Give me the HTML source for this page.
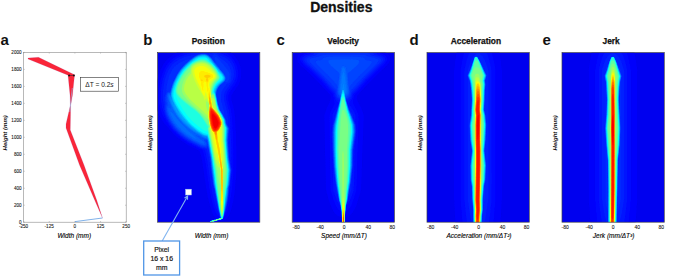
<!DOCTYPE html><html><head><meta charset="utf-8"><style>html,body{margin:0;padding:0;background:#fff;width:675px;height:276px;overflow:hidden}svg{display:block}text{font-family:"Liberation Sans",sans-serif}</style></head><body>
<svg width="675" height="276" viewBox="0 0 675 276">
<defs>
<filter id="jet" x="0" y="0" width="1" height="1" color-interpolation-filters="sRGB"><feComponentTransfer><feFuncR type="table" tableValues="0.000 0.000 0.000 0.000 0.000 0.000 0.000 0.000 0.000 0.000 0.000 0.000 0.000 0.000 0.000 0.000 0.000 0.000 0.000 0.000 0.000 0.000 0.000 0.000 0.000 0.062 0.125 0.188 0.250 0.312 0.375 0.438 0.500 0.562 0.625 0.688 0.750 0.812 0.875 0.938 1.000 1.000 1.000 1.000 1.000 1.000 1.000 1.000 1.000 1.000 1.000 1.000 1.000 1.000 1.000 1.000 1.000 0.938 0.875 0.812 0.750 0.688 0.625 0.562 0.500"/><feFuncG type="table" tableValues="0.000 0.000 0.000 0.000 0.000 0.000 0.000 0.000 0.000 0.062 0.125 0.188 0.250 0.312 0.375 0.438 0.500 0.562 0.625 0.688 0.750 0.812 0.875 0.938 1.000 1.000 1.000 1.000 1.000 1.000 1.000 1.000 1.000 1.000 1.000 1.000 1.000 1.000 1.000 1.000 1.000 0.938 0.875 0.812 0.750 0.688 0.625 0.562 0.500 0.438 0.375 0.312 0.250 0.188 0.125 0.062 0.000 0.000 0.000 0.000 0.000 0.000 0.000 0.000 0.000"/><feFuncB type="table" tableValues="0.500 0.562 0.625 0.688 0.750 0.812 0.875 0.938 1.000 1.000 1.000 1.000 1.000 1.000 1.000 1.000 1.000 1.000 1.000 1.000 1.000 1.000 1.000 1.000 1.000 0.938 0.875 0.812 0.750 0.688 0.625 0.562 0.500 0.438 0.375 0.312 0.250 0.188 0.125 0.062 0.000 0.000 0.000 0.000 0.000 0.000 0.000 0.000 0.000 0.000 0.000 0.000 0.000 0.000 0.000 0.000 0.000 0.000 0.000 0.000 0.000 0.000 0.000 0.000 0.000"/></feComponentTransfer></filter>
<filter id="b0_6" filterUnits="userSpaceOnUse" x="0" y="0" width="675" height="276" color-interpolation-filters="sRGB"><feGaussianBlur stdDeviation="0.6"/></filter>
<filter id="b0_8" filterUnits="userSpaceOnUse" x="0" y="0" width="675" height="276" color-interpolation-filters="sRGB"><feGaussianBlur stdDeviation="0.8"/></filter>
<filter id="b1" filterUnits="userSpaceOnUse" x="0" y="0" width="675" height="276" color-interpolation-filters="sRGB"><feGaussianBlur stdDeviation="1"/></filter>
<filter id="b1_2" filterUnits="userSpaceOnUse" x="0" y="0" width="675" height="276" color-interpolation-filters="sRGB"><feGaussianBlur stdDeviation="1.2"/></filter>
<filter id="b1_5" filterUnits="userSpaceOnUse" x="0" y="0" width="675" height="276" color-interpolation-filters="sRGB"><feGaussianBlur stdDeviation="1.5"/></filter>
<filter id="b2" filterUnits="userSpaceOnUse" x="0" y="0" width="675" height="276" color-interpolation-filters="sRGB"><feGaussianBlur stdDeviation="2"/></filter>
<filter id="b2_5" filterUnits="userSpaceOnUse" x="0" y="0" width="675" height="276" color-interpolation-filters="sRGB"><feGaussianBlur stdDeviation="2.5"/></filter>
<filter id="b3" filterUnits="userSpaceOnUse" x="0" y="0" width="675" height="276" color-interpolation-filters="sRGB"><feGaussianBlur stdDeviation="3"/></filter>
<filter id="b4" filterUnits="userSpaceOnUse" x="0" y="0" width="675" height="276" color-interpolation-filters="sRGB"><feGaussianBlur stdDeviation="4"/></filter>
<filter id="b5" filterUnits="userSpaceOnUse" x="0" y="0" width="675" height="276" color-interpolation-filters="sRGB"><feGaussianBlur stdDeviation="5"/></filter>
<filter id="b6" filterUnits="userSpaceOnUse" x="0" y="0" width="675" height="276" color-interpolation-filters="sRGB"><feGaussianBlur stdDeviation="6"/></filter>
<clipPath id="cp0"><rect x="157.5" y="52.5" width="102.3" height="169.7"/></clipPath>
<clipPath id="cp1"><rect x="292.2" y="52.5" width="102.3" height="169.7"/></clipPath>
<clipPath id="cp2"><rect x="427.0" y="52.5" width="102.3" height="169.7"/></clipPath>
<clipPath id="cp3"><rect x="562.0" y="52.5" width="102.3" height="169.7"/></clipPath>
</defs>
<g clip-path="url(#cp2)"><g filter="url(#jet)">
<rect x="427.0" y="52.5" width="102.3" height="169.7" fill="#1c1c1c"/>
<g filter="url(#b0_5)"><path fill-rule="evenodd" fill="#1f1f1f" d="M500.2 222.8 493.2 223.1 476.2 223.2 461.8 223.1 455.3 222.8 454.0 199.8 454.0 70.2 455.0 61.2 456.5 52.2 463.8 51.9 477.8 51.8 492.2 51.9 499.5 52.2 501.0 61.2 502.0 70.2 502.0 199.8 500.7 222.8 500.2 222.8Z"/><path fill-rule="evenodd" fill="#222222" d="M493.2 222.8 476.8 223.2 462.3 222.8 460.4 199.8 460.4 70.2 462.0 60.8 464.0 52.2 477.8 52.0 492.0 52.2 493.5 58.2 494.9 65.2 495.6 70.2 495.6 199.8 493.7 222.8 493.2 222.8Z"/><path fill-rule="evenodd" fill="#252525" d="M488.8 222.8 482.2 222.9 480.8 223.2 476.8 223.2 473.8 223.2 472.8 222.9 466.8 222.8 465.6 212.8 464.3 199.8 464.3 70.2 465.3 65.2 466.6 60.2 468.0 55.8 469.5 52.2 477.8 52.1 486.5 52.2 488.0 55.8 489.2 59.6 490.5 64.2 491.6 69.8 491.7 199.8 489.7 218.8 489.2 222.8 488.8 222.8Z"/><path fill-rule="evenodd" fill="#282828" d="M484.2 222.8 482.2 222.8 481.2 223.1 477.2 223.2 474.2 223.2 472.8 222.8 471.4 222.8 469.4 212.2 467.7 199.8 467.7 77.2 467.3 76.2 467.3 74.8 467.7 74.2 467.7 70.2 467.9 69.2 469.6 63.8 471.2 59.7 472.8 57.1 474.2 55.2 475.8 54.1 476.8 53.6 477.8 53.4 479.2 53.6 480.8 54.4 482.2 55.8 483.8 57.9 485.0 60.2 486.2 63.3 487.5 67.2 488.3 70.2 488.3 199.8 486.2 214.4 484.7 222.2 484.6 222.8 484.2 222.8Z"/><path fill-rule="evenodd" fill="#2b2b2b" d="M481.8 223.0 480.8 223.2 475.8 223.2 473.8 223.1 473.0 222.8 472.8 206.9 472.3 205.8 472.2 204.7 471.3 199.8 471.2 184.7 470.8 183.8 470.8 181.8 470.4 181.2 470.3 180.2 470.2 171.8 469.9 165.2 470.3 163.8 470.4 160.8 470.8 159.9 470.8 156.8 471.2 155.8 471.3 147.2 470.9 146.8 470.8 144.1 470.4 143.8 470.2 141.1 469.9 140.2 469.2 125.2 469.9 119.8 470.3 118.8 470.4 116.2 470.8 115.7 470.8 107.8 470.9 106.8 471.3 106.2 471.3 94.8 470.9 93.8 470.8 88.9 470.4 88.2 470.2 85.3 470.0 84.8 469.8 82.3 469.5 81.8 469.3 80.2 468.9 79.8 467.6 76.2 467.5 75.2 469.5 70.8 469.8 70.4 469.9 69.8 470.2 69.3 470.4 68.2 470.8 67.9 470.9 66.8 471.2 66.4 471.4 65.2 471.8 64.9 472.3 62.8 472.8 62.3 472.9 61.2 473.2 60.9 473.3 60.2 473.8 59.5 473.8 58.8 474.2 58.3 474.3 57.8 475.2 56.8 476.8 56.8 477.2 57.0 478.2 58.2 478.2 58.8 479.2 59.8 479.2 60.3 479.7 60.8 479.8 61.3 480.6 62.2 481.2 63.8 482.7 65.8 483.8 67.8 484.6 69.8 484.8 71.3 485.2 71.8 485.2 72.3 485.7 72.8 485.8 73.3 486.6 74.8 486.7 75.8 486.1 78.2 485.8 78.9 485.7 79.8 485.2 80.8 485.2 81.3 485.6 81.8 485.7 82.2 485.7 86.2 485.6 87.8 485.2 88.8 485.1 98.8 484.7 100.8 484.8 111.8 485.1 112.2 485.2 113.8 485.6 114.2 485.7 114.8 485.8 117.1 486.1 118.2 486.2 121.8 486.5 122.8 486.6 124.8 486.5 128.8 486.2 131.8 486.0 138.2 485.8 139.7 485.6 143.8 485.2 144.5 485.2 148.2 484.7 149.2 484.8 152.8 485.1 153.2 485.2 156.8 485.6 157.8 485.8 160.7 486.1 161.8 486.4 165.2 486.1 173.2 485.8 176.4 485.7 180.8 485.2 181.6 485.2 183.2 484.7 183.8 484.7 199.8 483.2 206.9 483.2 210.8 482.8 211.6 482.6 214.8 482.2 215.8 482.2 222.8 481.8 223.0Z"/><path fill-rule="evenodd" fill="#2e2e2e" d="M481.8 222.9 480.8 223.1 476.2 223.2 474.2 223.1 473.3 222.8 473.0 216.2 473.0 210.2 472.8 205.4 472.5 204.2 472.0 197.2 471.8 187.4 471.2 183.7 470.5 179.8 470.3 164.8 471.5 154.2 471.8 153.0 471.9 150.8 470.1 139.8 469.4 125.2 470.9 115.8 471.0 110.2 471.7 99.8 471.2 92.9 470.2 84.3 469.4 80.2 467.6 75.8 467.6 75.2 470.2 69.6 472.5 62.8 472.8 62.4 473.4 60.2 473.8 59.8 474.0 58.8 474.2 58.5 474.4 57.8 475.2 56.8 476.8 56.8 478.1 58.2 478.2 58.8 479.6 60.8 480.2 62.3 480.6 62.8 480.8 63.4 481.6 64.8 481.8 65.4 482.1 65.8 483.8 69.7 486.6 75.2 486.6 75.8 485.1 80.8 485.6 84.2 485.1 88.8 484.5 104.2 484.1 109.8 484.2 110.7 484.5 111.2 485.5 115.2 486.4 124.8 485.5 141.2 484.8 147.8 484.6 150.8 484.8 153.8 485.0 154.8 486.1 165.2 485.5 179.8 484.5 184.8 484.2 185.8 484.0 188.8 483.7 191.2 483.6 194.8 483.2 196.3 483.0 209.8 482.2 215.8 482.1 222.8 481.8 222.9Z"/><path fill-rule="evenodd" fill="#313131" d="M481.8 222.8 480.8 223.1 476.2 223.2 474.2 223.1 473.3 222.8 473.1 215.8 473.2 210.2 472.5 202.2 471.8 186.2 470.6 179.8 470.4 165.2 472.0 150.8 470.3 139.8 469.5 125.2 471.0 115.2 471.8 99.8 471.2 91.3 470.3 83.8 469.7 80.8 467.8 75.8 467.8 75.2 470.2 69.9 474.4 57.8 475.2 56.8 476.8 56.8 478.0 58.2 478.2 58.9 478.6 59.2 480.5 62.8 483.8 70.0 486.4 75.2 486.4 75.8 484.9 80.8 485.5 84.2 484.9 90.2 484.5 102.2 484.0 109.8 485.3 115.2 486.3 124.8 485.5 139.8 484.4 150.8 486.0 165.2 485.4 179.8 484.1 185.8 483.2 195.2 483.0 200.2 482.8 209.8 482.1 215.8 481.9 222.8 481.8 222.8Z"/><path fill-rule="evenodd" fill="#353535" d="M481.8 222.8 480.8 223.1 476.8 223.2 474.2 223.1 473.4 222.8 473.3 209.8 472.4 200.2 471.9 186.2 470.8 179.8 470.5 165.2 472.1 150.8 470.4 139.8 469.7 125.2 471.2 114.8 471.9 99.8 471.2 89.9 470.4 83.8 469.8 80.8 467.9 75.8 467.9 75.2 470.2 70.2 474.5 57.8 475.2 56.8 476.8 56.8 477.6 57.8 478.5 59.2 480.4 62.8 486.2 75.2 486.3 75.8 484.8 80.8 485.3 84.2 484.7 90.2 484.5 99.8 483.9 109.8 485.2 115.2 486.1 124.8 485.4 139.8 484.2 150.8 485.9 165.2 485.2 179.8 484.0 185.8 482.8 200.2 482.7 209.8 482.0 215.8 481.8 222.8Z"/><path fill-rule="evenodd" fill="#383838" d="M481.2 223.0 476.2 223.2 474.2 223.0 473.5 222.8 473.3 209.8 472.5 199.8 472.0 186.2 470.9 179.8 470.6 165.2 472.2 151.2 470.5 139.8 469.8 125.2 471.3 115.2 472.0 99.8 471.4 90.2 470.5 83.8 470.0 80.8 468.1 75.8 468.1 75.2 470.5 69.8 474.5 57.8 475.2 56.9 476.8 56.9 477.6 57.8 478.5 59.2 480.0 62.2 486.1 75.2 486.2 75.8 484.7 80.8 485.2 84.2 484.6 90.2 484.4 99.8 483.8 109.8 485.1 115.2 486.0 124.8 485.3 139.8 484.2 150.8 485.8 165.2 485.1 179.8 483.8 186.9 482.7 199.8 482.6 210.2 481.9 215.8 481.7 222.8 481.2 223.0Z"/><path fill-rule="evenodd" fill="#3b3b3b" d="M481.2 223.0 476.2 223.2 474.2 223.0 473.5 222.8 473.4 209.8 472.6 199.8 472.1 186.2 471.0 179.8 470.7 165.2 472.3 150.8 470.6 139.8 469.9 125.2 471.4 115.2 472.1 99.8 471.5 90.2 470.7 84.2 470.1 80.8 468.2 75.8 468.2 75.2 470.6 69.8 474.6 57.8 475.2 56.9 475.8 56.9 476.8 56.9 477.1 57.2 478.9 60.2 486.0 75.2 486.0 75.8 484.6 80.8 485.1 84.2 484.5 90.2 484.3 99.8 483.7 109.8 485.0 115.2 485.9 124.8 485.2 139.8 484.1 150.8 485.7 165.2 485.0 179.8 483.7 186.2 482.6 199.8 482.5 210.2 481.8 216.2 481.7 222.8 481.2 223.0Z"/><path fill-rule="evenodd" fill="#3e3e3e" d="M481.2 222.9 479.2 223.1 476.2 223.2 474.2 223.0 473.6 222.8 473.5 209.8 472.6 199.8 472.1 186.2 471.1 179.8 470.8 165.2 472.4 150.8 470.7 139.8 470.0 125.2 471.5 115.2 472.2 99.8 471.6 90.2 470.8 84.0 470.2 80.8 468.3 75.8 468.3 75.2 470.7 69.8 474.7 57.8 475.2 56.9 475.8 56.9 476.8 56.9 477.1 57.2 478.9 60.2 485.9 75.2 485.9 75.8 484.5 80.8 485.0 84.2 484.4 90.2 484.2 100.2 483.6 109.8 484.9 115.2 485.8 124.8 485.1 139.8 484.0 150.8 485.6 165.2 484.9 179.8 483.6 186.2 482.6 199.8 482.5 210.2 481.8 216.2 481.6 222.8 481.2 222.9Z"/><path fill-rule="evenodd" fill="#414141" d="M481.2 222.9 479.2 223.1 476.2 223.1 474.2 223.0 473.7 222.8 473.5 209.8 472.7 199.8 472.2 186.2 471.2 179.8 470.9 165.2 472.5 150.8 470.8 139.8 470.1 125.2 471.6 115.2 472.3 99.8 471.7 90.2 470.8 83.8 470.3 80.8 468.4 75.8 468.5 75.2 470.8 69.8 474.5 58.2 475.0 57.2 475.2 57.0 475.8 56.9 476.8 56.9 477.1 57.2 479.4 61.2 485.7 75.2 485.8 75.8 484.4 80.8 484.9 84.2 484.4 90.2 484.1 100.2 483.5 109.8 484.8 115.2 485.7 124.8 485.0 139.8 483.9 150.8 485.5 165.2 484.8 179.8 483.6 186.2 482.5 199.8 482.4 209.8 481.7 216.2 481.5 222.8 481.2 222.9Z"/><path fill-rule="evenodd" fill="#444444" d="M481.2 222.9 479.2 223.1 476.8 223.1 474.8 223.0 473.7 222.8 473.6 209.8 472.8 199.8 472.3 186.2 471.3 179.8 471.0 165.2 472.6 150.8 470.9 139.8 470.2 125.2 471.7 114.8 471.8 109.8 472.4 99.8 471.7 90.2 470.9 83.8 470.4 80.8 468.6 75.8 468.6 75.2 470.9 69.8 474.6 58.2 475.0 57.2 475.2 57.0 475.8 57.0 476.8 57.0 477.1 57.2 479.3 61.2 485.6 75.2 485.6 75.8 484.2 80.8 484.8 84.2 484.3 90.2 484.0 100.2 483.4 109.8 484.7 115.2 485.6 124.8 484.9 139.8 483.8 150.8 485.4 165.2 484.7 179.8 483.5 186.2 482.4 199.8 482.4 209.8 481.6 216.2 481.5 222.8 481.2 222.9Z"/><path fill-rule="evenodd" fill="#474747" d="M481.2 222.8 479.2 223.1 476.8 223.1 474.8 223.0 473.8 222.8 473.7 209.8 472.8 199.8 472.4 186.2 471.4 179.8 471.1 165.2 472.6 150.8 471.0 139.8 470.3 125.2 471.8 115.2 471.9 109.8 472.4 99.8 471.8 90.2 471.1 84.2 470.5 80.8 468.7 75.8 468.7 75.2 471.0 69.8 474.6 58.2 475.0 57.2 475.2 57.0 475.8 57.0 476.8 57.0 477.0 57.2 479.3 61.2 485.5 75.2 485.5 75.8 484.2 80.8 484.7 84.2 484.2 90.2 483.9 100.2 483.4 109.8 484.6 115.2 485.5 124.8 484.8 139.8 483.7 150.8 485.3 165.2 484.6 179.8 483.4 186.2 482.4 199.8 482.3 209.8 481.6 215.8 481.4 222.8 481.2 222.8Z"/><path fill-rule="evenodd" fill="#4a4a4a" d="M481.2 222.8 479.2 223.1 476.8 223.1 473.9 222.8 473.7 216.2 473.7 209.8 472.9 199.8 472.5 186.2 471.5 179.8 471.2 165.2 472.7 150.8 471.1 139.8 470.4 125.2 471.9 115.2 472.0 109.8 472.5 99.8 471.9 90.2 471.2 84.2 470.6 80.8 468.8 75.8 468.8 75.2 471.1 69.8 474.6 58.2 475.0 57.2 475.2 57.0 475.8 57.0 476.8 57.0 477.0 57.2 479.5 61.8 485.4 75.2 485.4 75.8 484.1 80.8 484.6 84.2 484.1 90.2 483.8 100.2 483.3 109.8 484.5 115.2 485.4 124.8 484.7 139.8 483.7 150.8 485.2 165.2 484.5 179.8 483.3 186.2 482.3 199.8 482.2 209.8 481.6 215.8 481.2 222.8Z"/><path fill-rule="evenodd" fill="#4c4c4c" d="M481.2 222.8 479.2 223.1 477.2 223.1 475.8 223.1 473.9 222.8 473.7 216.2 473.8 209.8 473.0 199.8 472.5 186.2 471.6 179.8 471.3 165.2 472.8 151.2 471.2 139.8 470.5 125.2 471.9 115.2 472.0 109.8 472.6 99.8 472.0 90.2 471.3 84.2 470.7 80.8 468.9 75.8 468.9 75.2 471.2 69.8 474.7 58.2 475.1 57.2 475.2 57.1 475.8 57.0 476.8 57.0 477.0 57.2 479.4 61.8 485.3 75.2 485.3 75.8 484.0 80.8 484.5 84.2 484.0 90.2 483.8 99.8 483.2 109.8 484.4 115.2 485.3 124.8 484.6 139.8 483.6 150.8 485.1 165.2 484.4 179.8 483.2 186.2 482.2 199.8 482.2 209.8 481.5 215.8 481.2 222.8Z"/><path fill-rule="evenodd" fill="#505050" d="M481.2 222.8 479.2 223.1 477.2 223.1 473.9 222.8 473.8 216.2 473.8 209.8 473.0 199.8 472.6 186.2 471.6 179.8 471.4 165.2 472.8 151.2 471.3 139.8 470.6 125.2 472.0 115.2 472.1 109.8 472.6 99.8 472.0 90.2 471.3 84.2 470.7 80.8 469.0 75.8 469.0 75.2 471.2 69.8 474.7 58.2 475.1 57.2 475.8 57.0 476.8 57.1 477.0 57.2 479.4 61.8 485.2 75.2 485.3 75.8 483.9 80.8 484.5 84.2 484.0 90.2 483.8 99.8 483.2 109.8 484.4 115.2 485.2 124.8 484.5 139.8 483.6 150.8 485.0 165.2 484.4 179.8 483.2 186.2 482.2 199.8 482.2 209.8 481.5 215.8 481.2 222.8Z"/><path fill-rule="evenodd" fill="#585858" d="M480.8 222.9 476.8 223.1 474.1 222.8 473.9 216.2 474.0 209.8 473.2 199.8 472.8 186.2 471.8 179.8 471.6 165.2 473.0 150.8 471.5 139.8 470.8 125.2 472.2 115.2 472.3 109.8 472.8 99.8 472.3 90.2 471.6 84.2 470.9 80.8 469.3 75.8 469.3 75.2 471.4 69.8 474.8 58.3 475.1 57.2 475.8 57.1 476.9 57.2 479.3 61.8 484.9 75.2 484.9 75.8 483.7 80.8 484.3 84.2 483.8 90.2 483.5 100.2 483.0 109.8 484.2 115.2 485.0 124.8 484.3 139.8 483.4 150.8 484.8 165.2 484.2 179.8 483.0 186.2 482.0 199.8 482.0 210.2 481.3 215.8 481.1 222.8 480.8 222.9Z"/><path fill-rule="evenodd" fill="#606060" d="M480.8 222.8 479.2 223.0 476.8 223.1 474.2 222.8 474.1 216.2 474.1 209.8 473.4 199.8 473.0 186.2 472.1 179.8 471.9 165.2 473.2 150.8 471.8 139.8 471.1 125.2 472.5 115.2 472.5 109.8 473.1 99.8 472.5 90.2 471.8 84.2 471.2 80.8 469.6 75.8 469.6 75.2 471.7 69.8 475.2 57.2 475.8 57.1 476.8 57.2 479.2 62.1 484.6 75.2 484.6 75.8 483.4 80.8 484.0 84.2 483.5 90.2 483.3 100.2 482.7 109.8 483.9 115.2 484.7 124.8 484.0 139.8 483.1 150.8 484.5 165.2 483.9 179.8 482.8 186.2 481.8 199.8 481.8 209.8 481.1 216.2 480.9 222.8 480.8 222.8Z"/><path fill-rule="evenodd" fill="#676767" d="M480.8 222.8 479.2 223.0 477.2 223.1 474.5 222.8 474.2 216.2 474.3 209.8 473.6 199.8 473.2 186.2 472.4 179.8 472.2 164.8 473.5 151.2 472.1 139.8 471.4 125.2 472.7 115.2 472.7 109.8 473.3 99.8 472.8 90.2 472.1 84.2 471.5 80.8 470.0 75.8 470.0 75.2 471.9 69.8 475.2 57.4 475.8 57.2 476.8 57.2 478.8 61.4 484.2 75.2 484.3 75.8 483.1 80.8 483.7 84.2 483.3 89.8 483.1 99.8 482.5 109.8 483.6 115.2 484.4 124.8 483.7 139.8 482.9 150.8 484.2 165.2 483.6 179.8 482.6 186.2 481.6 199.8 481.6 209.8 480.9 216.2 480.8 222.8Z"/><path fill-rule="evenodd" fill="#6f6f6f" d="M480.2 222.8 476.8 223.0 474.7 222.8 474.4 216.2 474.5 209.8 473.8 199.8 473.5 186.2 472.7 179.8 472.6 165.2 473.8 151.2 472.4 139.8 471.8 125.2 473.1 115.2 473.0 109.8 473.6 99.8 473.1 90.2 472.5 84.2 471.8 80.8 470.4 75.8 470.4 75.2 472.4 69.2 474.8 60.1 475.2 58.6 475.8 58.0 476.8 58.2 478.8 61.9 483.8 75.1 483.8 75.8 482.8 80.8 483.3 84.2 482.9 89.8 482.8 100.2 482.2 109.8 483.3 115.2 484.0 124.8 483.3 140.2 482.6 150.8 483.8 165.2 483.3 179.8 482.3 186.2 481.4 199.8 481.4 210.2 480.8 215.8 480.5 222.8 480.2 222.8Z"/><path fill-rule="evenodd" fill="#777777" d="M480.2 222.8 477.2 223.0 474.9 222.8 474.7 216.2 474.8 209.8 474.1 199.8 473.9 186.2 473.2 179.8 473.0 165.2 474.1 150.8 472.9 139.8 472.2 125.2 473.5 115.2 473.4 109.8 474.0 99.8 473.5 90.2 472.9 84.2 472.3 80.8 471.0 75.8 471.0 75.2 472.6 70.2 474.8 61.9 475.2 61.1 475.8 61.0 477.2 61.0 477.8 61.3 478.2 61.9 481.2 69.8 483.2 75.2 483.3 75.8 482.3 80.8 482.9 84.2 482.5 90.2 482.4 100.2 481.8 109.8 482.9 115.2 483.6 124.8 482.3 150.8 483.4 165.2 482.9 179.8 481.9 186.2 481.1 199.8 481.2 209.8 480.6 216.2 480.2 222.8Z"/><path fill-rule="evenodd" fill="#7e7e7e" d="M479.8 222.8 476.8 223.0 475.1 222.8 474.8 216.2 475.0 209.8 474.3 199.8 474.3 186.2 473.9 179.8 473.8 165.2 474.6 150.8 473.6 139.8 472.9 125.2 474.2 115.2 473.9 109.8 474.5 99.8 474.1 90.2 473.7 84.2 473.1 80.8 471.9 75.8 472.2 74.1 474.2 68.4 474.8 67.7 475.8 67.3 478.2 67.4 479.2 68.0 480.2 69.6 482.2 75.0 482.4 75.8 481.6 80.8 482.2 84.2 481.9 90.2 481.9 100.2 481.3 109.8 482.2 115.2 482.9 124.8 481.8 150.8 482.6 165.2 482.1 179.8 481.5 186.2 480.8 199.8 481.0 210.2 480.4 216.2 480.1 222.8 479.8 222.8Z"/><path fill-rule="evenodd" fill="#868686" d="M479.8 222.8 476.8 223.0 475.2 222.8 475.0 216.2 475.2 209.8 474.6 199.8 474.9 151.2 474.5 139.8 474.3 125.2 474.8 115.2 474.3 109.8 474.9 99.8 474.8 84.2 474.4 81.2 474.4 79.2 474.5 76.8 475.1 74.8 475.8 73.9 476.8 73.7 478.2 73.8 478.8 74.2 479.5 75.8 479.9 77.2 480.2 80.8 481.1 84.2 481.5 99.8 480.9 109.8 481.6 115.2 481.6 125.2 481.3 139.8 481.6 168.2 481.4 179.8 480.6 199.8 480.8 209.8 480.2 215.8 480.0 222.8 479.8 222.8Z"/><path fill-rule="evenodd" fill="#8e8e8e" d="M479.8 222.8 477.2 222.9 475.4 222.8 475.2 215.8 475.3 209.8 474.8 200.2 475.2 151.2 474.8 140.2 474.8 125.2 475.1 115.2 474.6 109.8 475.2 99.8 475.2 84.2 475.0 81.2 475.5 78.2 475.8 77.6 476.2 77.3 476.8 77.2 478.2 77.4 478.8 77.8 480.6 83.8 481.2 99.8 480.6 109.8 481.2 115.2 481.0 139.8 481.2 154.8 481.1 176.2 480.4 199.8 480.6 209.8 480.1 215.8 479.8 222.8Z"/><path fill-rule="evenodd" fill="#959595" d="M479.2 222.9 476.8 222.9 475.5 222.8 475.3 215.8 475.5 209.8 474.9 199.8 475.4 151.2 475.0 139.8 475.0 125.2 475.3 115.2 474.8 109.8 475.4 100.2 475.5 81.8 475.8 80.8 476.2 80.0 477.2 79.8 478.2 80.0 478.8 80.5 479.8 82.4 480.3 84.2 481.0 99.8 480.5 109.8 481.1 115.2 480.7 139.8 481.0 150.8 481.1 165.2 480.8 180.2 480.3 199.8 480.5 209.8 479.9 216.2 479.7 222.8 479.2 222.9Z"/><path fill-rule="evenodd" fill="#9d9d9d" d="M479.2 222.8 476.8 222.9 475.6 222.8 475.4 215.8 475.6 209.8 475.1 199.8 475.5 151.2 475.2 139.8 475.2 125.2 475.5 115.2 474.9 109.8 475.6 100.2 475.6 89.8 475.9 83.2 476.2 81.8 477.2 81.5 478.2 81.6 478.8 81.8 479.2 82.4 480.0 84.2 480.4 89.8 480.8 99.8 480.3 109.8 480.9 115.2 480.6 125.2 480.6 139.8 480.9 151.2 480.9 165.2 480.6 185.8 480.1 199.8 480.4 209.8 479.8 216.2 479.6 222.8 479.2 222.8Z"/><path fill-rule="evenodd" fill="#a4a4a4" d="M479.2 222.8 475.7 222.8 475.5 215.8 475.7 209.8 475.2 199.8 475.7 164.8 475.7 151.2 475.4 139.8 475.3 125.2 475.7 115.2 475.1 109.8 475.7 100.2 475.8 90.2 476.0 86.2 476.3 83.8 476.8 82.9 477.2 82.8 478.8 82.9 479.2 83.4 479.6 84.2 480.2 90.2 480.7 99.8 480.1 109.8 480.7 115.2 480.4 139.8 480.7 151.2 480.7 165.2 480.4 185.8 480.0 199.8 480.2 209.8 479.7 216.2 479.5 222.8 479.2 222.8Z"/><path fill-rule="evenodd" fill="#acacac" d="M479.2 222.8 475.8 222.8 475.6 215.8 475.9 209.8 475.3 199.8 475.8 164.8 475.8 151.2 475.5 139.8 475.5 125.2 475.8 115.2 475.2 109.8 475.9 100.2 476.0 90.8 476.2 86.9 476.8 84.6 477.2 84.1 477.8 84.1 478.8 84.2 479.2 85.0 479.7 87.2 480.5 99.8 480.0 109.8 480.6 115.2 480.3 125.2 480.3 139.8 480.6 151.2 480.6 165.2 480.3 185.8 479.9 199.8 480.1 209.8 479.6 215.8 479.4 222.8 479.2 222.8Z"/><path fill-rule="evenodd" fill="#b4b4b4" d="M479.2 222.8 476.0 222.8 475.7 216.2 476.0 209.8 475.5 199.8 476.0 164.8 476.0 151.2 475.6 139.8 475.6 125.2 475.9 115.2 475.4 109.8 476.0 100.2 476.3 89.8 476.8 87.0 477.2 86.3 477.8 86.3 478.8 86.4 479.2 87.3 479.8 90.2 480.4 99.8 479.9 109.8 480.4 115.2 480.2 125.2 480.1 139.8 480.4 151.2 480.4 165.2 479.7 199.8 480.0 209.8 479.4 216.2 479.2 222.8Z"/><path fill-rule="evenodd" fill="#bbbbbb" d="M478.8 222.8 476.1 222.8 475.9 216.2 476.1 209.8 475.6 199.8 476.1 164.8 476.1 151.2 475.8 139.8 475.7 125.2 476.1 115.2 475.5 109.8 476.7 90.2 476.8 89.5 477.2 88.6 477.8 88.5 478.8 88.7 479.2 89.6 479.8 93.1 480.2 99.8 479.7 109.8 480.3 115.2 480.1 125.2 480.0 139.8 480.3 151.2 480.3 165.2 479.6 199.8 479.9 209.8 479.4 215.8 479.1 222.8 478.8 222.8Z"/><path fill-rule="evenodd" fill="#c3c3c3" d="M478.8 222.8 476.2 222.8 476.0 216.2 476.2 209.8 475.7 199.8 476.2 164.8 475.9 125.2 476.2 115.2 475.7 109.8 476.8 93.0 477.2 91.2 477.8 91.0 478.8 91.2 479.2 92.4 479.8 96.0 480.0 100.2 479.6 109.8 480.2 115.2 479.9 125.2 479.9 139.8 480.2 151.2 480.2 165.2 479.9 185.8 479.5 199.8 479.7 209.8 479.2 216.2 478.9 222.8 478.8 222.8Z"/><path fill-rule="evenodd" fill="#cbcbcb" d="M478.8 222.8 476.5 222.8 476.2 216.2 476.4 209.8 475.9 199.8 476.4 164.8 476.4 151.2 476.1 140.2 476.1 125.2 476.4 115.2 475.8 109.8 476.8 96.8 477.2 94.4 477.8 94.0 478.2 94.0 478.8 94.1 479.2 95.3 479.8 98.8 479.8 100.2 479.4 109.8 480.0 115.2 479.7 139.8 480.0 151.2 480.0 165.2 479.8 183.8 479.3 199.8 479.5 209.8 479.0 216.2 478.8 222.8Z"/><path fill-rule="evenodd" fill="#d2d2d2" d="M478.2 222.8 476.7 222.8 476.4 216.2 476.6 209.8 476.1 199.8 476.6 165.2 476.6 151.2 476.3 139.8 476.2 125.2 476.6 115.2 476.0 109.8 476.8 100.8 477.1 98.2 477.2 97.5 477.8 97.0 478.2 97.0 478.8 97.1 479.2 98.1 479.5 100.2 479.2 109.8 479.8 115.2 479.5 139.8 479.8 150.8 479.8 164.8 479.1 199.8 479.3 210.2 478.6 220.2 478.4 222.8 478.2 222.8Z"/><path fill-rule="evenodd" fill="#dadada" d="M477.8 219.9 477.2 219.8 476.8 216.4 477.0 209.8 476.4 199.8 476.9 164.8 476.9 151.2 476.6 140.2 476.5 125.2 476.9 115.2 476.3 109.8 477.2 101.6 477.8 100.2 478.2 100.1 478.8 100.3 478.8 101.2 478.9 110.2 479.5 115.2 479.2 139.8 479.5 151.2 479.5 164.8 479.2 185.8 478.8 199.8 479.0 209.8 478.2 218.6 477.8 219.9Z"/><path fill-rule="evenodd" fill="#e2e2e2" d="M478.2 139.8 477.8 140.2 477.2 137.5 477.0 125.2 477.2 119.3 477.8 115.4 478.2 114.8 478.8 116.1 478.9 124.2 478.8 132.6 478.2 139.8Z"/></g>
</g></g>
<rect x="427.0" y="52.5" width="102.3" height="169.7" fill="none" stroke="#3a3a4a" stroke-width="0.7"/>
<g clip-path="url(#cp3)"><g filter="url(#jet)">
<rect x="562.0" y="52.5" width="102.3" height="169.7" fill="#1c1c1c"/>
<g filter="url(#b0_5)"><path fill-rule="evenodd" fill="#1f1f1f" d="M635.2 222.8 628.2 223.1 611.2 223.2 596.8 223.1 590.3 222.8 588.6 199.8 588.6 70.2 590.0 60.2 591.5 52.2 598.8 51.9 612.8 51.8 627.2 51.9 634.5 52.2 636.0 60.2 637.4 70.2 637.4 199.8 635.7 222.8 635.2 222.8Z"/><path fill-rule="evenodd" fill="#222222" d="M628.8 222.8 612.2 223.2 597.2 222.8 596.0 211.8 594.9 199.8 594.9 70.2 596.6 60.8 597.7 56.2 599.0 52.2 612.8 52.0 627.0 52.2 628.9 58.8 630.6 66.8 631.1 70.2 631.1 199.8 630.0 211.8 628.8 222.8Z"/><path fill-rule="evenodd" fill="#252525" d="M623.8 222.8 611.8 223.2 608.8 223.2 607.8 222.9 601.8 222.8 600.4 213.8 599.0 203.2 598.7 199.8 598.7 70.2 599.9 64.8 601.3 59.8 602.8 55.8 604.5 52.2 612.8 52.1 621.5 52.2 623.0 55.2 624.6 59.2 626.0 64.2 627.3 69.8 627.3 199.8 625.2 216.8 624.2 222.8 623.8 222.8Z"/><path fill-rule="evenodd" fill="#282828" d="M619.2 222.8 617.2 222.8 615.8 223.2 611.8 223.2 608.8 223.1 607.8 222.8 606.4 222.8 605.2 218.6 604.0 212.8 601.9 199.8 601.9 70.2 602.8 66.9 604.0 63.2 605.2 60.3 606.8 57.6 608.2 55.7 609.8 54.3 611.2 53.5 612.8 53.2 614.8 53.5 616.2 54.3 617.8 55.7 619.2 57.6 620.8 60.3 622.0 63.2 623.2 66.9 624.1 70.2 624.1 199.8 623.0 207.2 621.7 214.2 620.0 221.2 619.6 222.8 619.2 222.8Z"/><path fill-rule="evenodd" fill="#2b2b2b" d="M616.8 222.8 615.8 223.1 611.2 223.2 608.8 223.1 607.8 222.8 607.8 210.9 606.2 205.5 605.1 199.8 605.1 133.2 604.8 132.2 604.8 128.2 604.8 124.8 605.1 123.8 605.1 80.2 604.8 79.8 604.8 78.2 604.3 77.2 604.3 75.8 604.3 75.2 604.8 74.8 604.8 73.8 605.1 73.2 605.1 70.2 605.6 68.8 607.2 65.2 608.8 62.9 608.8 62.2 609.2 61.8 609.4 60.8 609.8 60.5 609.9 59.8 610.2 59.4 610.4 58.8 610.8 58.4 610.8 57.8 611.8 56.8 613.8 56.8 614.2 57.2 614.2 57.8 615.1 58.8 615.2 59.3 615.7 59.8 615.8 60.3 616.2 60.8 616.2 61.3 616.7 61.8 616.8 62.3 618.2 64.2 619.2 66.1 620.8 69.8 620.9 73.2 621.2 73.8 621.2 74.8 621.7 75.2 621.7 75.8 621.7 77.2 621.2 78.2 621.2 79.8 620.9 80.2 620.9 199.8 619.2 207.5 617.2 213.6 616.9 220.8 617.0 222.8 616.8 222.8Z"/><path fill-rule="evenodd" fill="#2e2e2e" d="M616.2 223.0 610.8 223.2 608.8 223.1 608.0 222.8 608.2 217.8 608.2 208.3 608.0 197.8 607.8 163.3 607.3 159.2 607.2 155.7 606.9 154.8 606.8 150.7 606.5 149.8 606.2 145.8 606.0 144.8 605.8 138.7 605.5 137.2 604.9 128.2 606.2 113.2 606.4 104.2 606.8 99.8 606.5 96.8 606.2 89.0 605.9 86.8 605.8 82.2 604.5 76.8 604.5 75.8 605.9 71.8 606.2 71.3 606.5 70.2 606.8 69.9 606.9 68.8 607.2 68.4 607.4 67.2 607.8 66.7 608.5 63.8 608.8 63.5 608.9 62.2 609.2 61.9 609.4 61.2 609.8 60.8 609.8 60.2 610.2 59.8 610.3 59.2 611.3 57.2 611.8 56.8 612.2 56.8 613.8 56.8 614.2 57.2 614.2 57.8 614.7 58.2 614.8 58.8 615.2 59.2 615.2 59.7 616.6 62.2 616.8 63.0 617.0 63.2 617.2 64.4 617.6 64.8 617.8 65.8 618.1 66.2 618.2 67.1 618.6 67.8 619.2 69.9 619.5 70.2 619.8 71.3 620.1 71.8 621.5 75.8 621.6 76.2 620.2 82.2 620.0 85.2 619.7 87.2 619.6 92.8 619.2 95.8 619.2 103.8 619.6 106.8 619.8 113.6 620.0 115.2 620.2 122.4 620.5 124.8 620.6 130.2 620.2 135.4 620.0 144.8 619.8 145.7 619.5 149.2 619.2 150.1 619.0 153.8 618.8 154.4 618.6 157.8 618.2 159.2 618.1 175.2 617.7 179.8 617.7 196.8 617.6 198.2 617.2 199.1 617.1 211.2 616.8 218.0 616.7 222.8 616.2 223.0Z"/><path fill-rule="evenodd" fill="#313131" d="M616.2 223.0 610.8 223.2 608.8 223.0 608.1 222.8 608.3 217.8 608.3 186.2 608.0 178.8 607.8 160.2 606.1 143.2 605.1 128.2 606.3 115.2 606.9 99.8 605.9 82.2 604.6 76.2 604.6 75.8 606.8 70.2 609.5 61.2 610.8 58.8 610.9 58.2 611.3 57.8 611.3 57.2 611.8 56.8 612.2 56.8 613.8 56.9 614.1 57.2 614.2 57.8 614.6 58.2 614.8 58.8 616.1 61.2 621.4 75.8 621.4 76.2 620.1 82.2 619.6 87.2 619.1 95.8 619.1 103.8 620.5 128.2 619.7 145.2 618.1 159.2 617.6 191.2 617.2 196.5 616.7 222.8 616.2 223.0Z"/><path fill-rule="evenodd" fill="#353535" d="M616.2 223.0 611.2 223.2 609.2 223.1 608.2 222.8 608.4 217.8 608.3 186.2 607.8 160.2 606.4 145.2 605.3 128.2 606.4 115.2 607.0 99.8 606.0 82.2 604.8 76.2 604.8 75.8 606.8 70.2 609.6 61.2 611.3 57.8 611.4 57.2 611.8 56.9 612.2 56.8 613.8 56.9 614.1 57.2 614.2 57.8 614.6 58.2 614.7 58.8 616.0 61.2 621.2 75.8 621.2 76.2 620.0 81.8 619.8 84.3 618.8 99.8 620.3 128.2 619.6 145.2 618.0 159.8 617.5 188.2 616.6 222.8 616.2 223.0Z"/><path fill-rule="evenodd" fill="#383838" d="M616.2 222.9 614.2 223.1 611.2 223.2 609.2 223.1 608.3 222.8 608.4 217.8 608.4 186.2 607.9 160.2 606.5 145.2 605.4 128.2 606.5 114.8 607.1 99.8 606.1 82.2 604.9 76.2 604.9 75.8 606.9 70.2 609.5 61.8 611.4 57.2 611.8 56.9 612.2 56.9 613.2 56.9 614.0 57.2 615.9 61.2 621.1 75.8 621.1 76.2 619.8 83.3 619.2 88.9 618.7 99.8 620.2 128.2 619.5 144.8 617.9 160.2 616.5 222.8 616.2 222.9Z"/><path fill-rule="evenodd" fill="#3b3b3b" d="M616.2 222.9 614.2 223.1 611.2 223.2 609.2 223.0 608.4 222.8 608.5 217.8 608.4 186.2 608.0 160.2 606.6 144.8 605.5 128.2 606.6 114.8 607.2 99.8 606.2 82.2 605.0 76.2 605.0 75.8 607.2 69.6 609.5 61.8 611.5 57.2 611.8 57.0 612.2 56.9 613.2 56.9 614.0 57.2 615.8 61.2 621.0 75.8 621.0 76.2 619.7 82.2 619.2 88.2 618.6 99.8 620.1 128.2 619.4 144.8 617.8 160.2 616.5 222.8 616.2 222.9Z"/><path fill-rule="evenodd" fill="#3e3e3e" d="M616.2 222.8 615.2 223.0 611.8 223.2 609.2 223.0 608.4 222.8 608.6 217.8 608.5 186.2 608.1 160.2 606.6 144.8 605.6 128.2 606.7 114.8 607.2 99.8 606.3 82.2 605.1 76.2 605.1 75.8 607.2 69.9 609.6 61.8 611.5 57.2 611.8 57.0 612.2 56.9 613.2 56.9 613.9 57.2 616.0 61.8 620.9 75.8 620.9 76.2 619.7 82.2 619.1 88.2 618.6 99.8 620.0 128.2 619.3 144.8 617.7 160.2 617.3 185.8 616.4 222.8 616.2 222.8Z"/><path fill-rule="evenodd" fill="#414141" d="M616.2 222.8 615.2 223.0 611.8 223.2 609.2 223.0 608.5 222.8 608.6 217.8 608.6 186.2 608.1 160.2 606.7 144.8 605.7 128.2 606.8 114.8 607.3 99.8 606.4 82.2 605.2 76.2 605.3 75.8 607.2 70.1 609.6 61.8 611.5 57.2 612.2 56.9 613.2 56.9 613.9 57.2 615.9 61.8 620.7 75.8 620.8 76.2 619.6 82.2 619.0 88.2 618.5 99.8 619.9 128.2 619.3 144.8 617.7 160.2 617.2 186.2 616.2 222.8Z"/><path fill-rule="evenodd" fill="#444444" d="M616.2 222.8 615.2 223.0 612.2 223.1 609.2 223.0 608.5 222.8 608.7 217.8 608.6 186.2 608.2 160.2 606.8 144.8 605.8 128.2 606.9 114.8 607.4 99.8 606.5 82.2 605.3 76.2 605.4 75.8 607.3 70.2 609.7 61.8 611.6 57.2 612.2 57.0 613.2 57.0 613.8 57.2 615.9 61.8 620.6 75.8 620.7 76.2 619.5 82.2 618.9 88.2 618.4 99.8 619.8 128.2 619.2 144.8 617.6 160.2 616.2 222.8Z"/><path fill-rule="evenodd" fill="#474747" d="M615.8 222.9 611.2 223.1 608.6 222.8 608.7 217.8 608.7 186.2 608.3 160.2 606.9 144.8 605.9 128.2 606.9 114.8 607.5 99.8 606.6 82.2 605.4 76.2 605.5 75.8 607.4 70.2 609.7 61.8 611.6 57.2 612.2 57.0 613.2 57.0 613.8 57.2 615.8 61.8 620.5 75.8 620.6 76.2 619.4 82.2 618.9 88.2 618.3 99.8 619.7 128.2 619.1 144.8 617.5 160.2 616.2 222.8 615.8 222.9Z"/><path fill-rule="evenodd" fill="#4a4a4a" d="M615.8 222.9 611.2 223.1 608.7 222.8 608.8 186.2 608.3 160.2 607.0 145.2 606.0 128.2 607.0 114.8 607.6 99.8 606.7 82.2 605.6 75.8 607.5 70.2 609.8 61.9 611.6 57.2 612.2 57.0 613.2 57.0 613.7 57.2 615.8 61.8 620.4 75.8 620.5 76.2 619.3 82.2 618.8 88.2 618.2 99.8 619.6 128.2 619.0 144.8 617.5 160.2 616.1 222.8 615.8 222.9Z"/><path fill-rule="evenodd" fill="#4c4c4c" d="M615.8 222.9 613.8 223.1 611.2 223.1 608.7 222.8 608.8 186.2 608.4 160.2 607.1 145.2 606.1 128.2 607.1 114.8 607.6 99.8 606.8 82.2 605.7 75.8 607.5 70.2 609.8 62.1 611.7 57.2 612.2 57.0 613.2 57.0 613.7 57.2 615.7 61.8 620.4 76.2 619.2 82.2 618.7 88.2 618.2 99.8 619.5 128.2 618.9 144.8 617.4 160.2 616.1 222.8 615.8 222.9Z"/><path fill-rule="evenodd" fill="#505050" d="M615.8 222.9 611.8 223.1 608.7 222.8 608.8 186.2 608.4 160.2 607.2 145.2 606.1 128.2 607.1 114.8 607.7 99.8 606.8 82.2 605.7 75.8 607.6 70.2 609.8 62.1 611.7 57.2 612.2 57.0 613.2 57.0 613.7 57.2 615.8 61.8 620.3 76.2 619.2 82.2 618.7 88.2 618.1 99.8 619.5 128.2 618.9 144.8 617.4 160.2 616.1 222.8 615.8 222.9Z"/><path fill-rule="evenodd" fill="#585858" d="M615.8 222.8 613.8 223.1 611.8 223.1 608.9 222.8 609.0 186.2 608.6 160.2 607.3 144.8 606.4 128.2 607.4 114.8 607.9 99.8 607.1 82.2 606.0 75.8 607.9 69.8 609.9 62.2 611.8 57.3 612.2 57.1 613.2 57.1 613.8 57.5 615.8 62.2 620.0 76.2 618.9 82.2 618.4 88.2 617.9 99.8 619.3 128.2 618.7 144.8 617.2 160.2 616.8 186.2 615.9 222.8 615.8 222.8Z"/><path fill-rule="evenodd" fill="#606060" d="M615.2 222.9 611.8 223.1 609.1 222.8 609.2 186.2 608.8 160.2 607.6 145.2 606.6 128.2 607.6 114.8 608.1 99.8 607.3 82.2 606.3 75.8 608.0 70.2 610.2 61.8 611.8 57.6 612.2 57.1 613.4 57.2 615.2 61.3 619.8 76.2 618.6 83.2 618.2 88.2 617.7 99.8 619.0 128.2 618.4 145.2 617.0 160.2 616.6 185.8 615.7 222.8 615.2 222.9Z"/><path fill-rule="evenodd" fill="#676767" d="M615.2 222.8 611.8 223.0 609.3 222.8 609.4 186.2 609.0 160.2 607.8 144.8 606.9 128.2 607.9 114.8 608.3 99.8 607.6 82.2 606.6 75.8 608.4 69.8 610.2 62.0 611.8 57.9 612.2 57.2 613.3 57.2 615.2 61.7 619.4 76.2 618.4 82.2 617.9 88.2 617.5 99.8 618.7 128.2 618.2 144.8 616.8 160.2 615.8 215.2 615.5 222.8 615.2 222.8Z"/><path fill-rule="evenodd" fill="#6f6f6f" d="M615.2 222.8 612.2 223.0 609.5 222.8 609.6 186.2 609.2 160.2 607.2 128.2 608.1 115.2 608.6 99.8 607.9 82.2 607.0 75.8 608.6 70.2 610.8 61.3 611.8 58.7 612.2 58.0 612.8 58.0 613.2 58.1 613.8 58.8 615.2 62.5 619.0 76.2 618.0 83.2 617.6 88.2 617.2 99.8 618.4 128.2 617.8 145.2 616.6 160.2 616.2 186.2 615.2 222.8Z"/><path fill-rule="evenodd" fill="#777777" d="M614.8 222.8 611.8 223.0 609.8 222.8 609.8 186.2 609.5 160.2 607.6 128.2 608.6 115.2 609.0 100.2 608.3 82.2 607.5 75.8 609.0 70.2 610.8 62.8 611.2 61.5 611.8 61.1 612.2 61.0 613.8 61.1 614.2 61.4 614.8 62.4 618.5 76.2 617.5 84.2 616.9 99.8 618.0 128.2 617.4 145.2 616.3 160.2 615.4 209.8 615.0 222.8 614.8 222.8Z"/><path fill-rule="evenodd" fill="#7e7e7e" d="M614.2 222.9 611.8 223.0 610.0 222.8 610.2 185.8 610.0 160.2 608.2 128.2 609.2 115.2 609.6 100.2 609.0 82.2 608.3 76.2 611.2 65.0 611.8 64.2 612.8 64.0 613.8 64.1 614.2 64.5 614.6 65.2 616.2 70.5 617.7 76.2 617.0 82.2 616.3 97.2 616.5 106.2 617.4 128.2 616.8 145.2 615.8 160.2 615.6 186.2 615.0 217.8 614.7 222.8 614.2 222.9Z"/><path fill-rule="evenodd" fill="#868686" d="M614.2 222.8 611.8 223.0 610.2 222.8 610.2 221.2 610.4 185.8 610.4 145.2 610.2 135.3 609.9 128.2 610.2 122.4 610.4 115.2 610.4 85.2 610.5 76.2 611.0 71.2 611.8 67.6 612.2 67.1 612.8 67.0 613.8 67.1 614.2 67.8 614.9 70.2 615.5 76.2 615.6 81.8 615.5 99.8 615.7 128.2 615.3 185.8 614.8 217.8 614.6 222.8 614.2 222.8Z"/><path fill-rule="evenodd" fill="#8e8e8e" d="M614.2 222.8 611.8 222.9 610.3 222.8 610.3 221.2 610.7 185.8 610.8 144.8 610.4 128.2 610.8 115.1 610.6 88.2 611.2 73.8 611.8 70.6 612.2 70.0 612.8 69.9 613.8 70.0 614.2 70.6 614.5 71.8 615.0 75.8 615.2 81.8 615.1 186.2 614.7 217.8 614.5 222.8 614.2 222.8Z"/><path fill-rule="evenodd" fill="#959595" d="M614.2 222.8 611.8 222.9 610.5 222.8 610.4 221.2 610.8 185.8 610.9 144.8 610.6 128.2 610.9 115.2 610.8 87.8 611.4 74.8 611.8 72.6 612.2 71.8 612.8 71.6 613.8 71.8 614.3 72.8 614.7 76.2 615.0 82.2 615.1 114.8 615.0 185.8 614.5 217.8 614.2 222.8Z"/><path fill-rule="evenodd" fill="#9d9d9d" d="M613.8 222.9 610.6 222.8 610.5 221.2 610.9 185.8 611.0 145.2 610.8 128.2 611.0 114.8 611.0 88.2 611.6 75.8 611.8 74.6 612.1 73.8 612.2 73.4 612.8 73.3 613.8 73.4 614.2 74.6 614.6 77.8 614.8 82.8 615.0 114.8 614.9 128.2 615.0 145.2 614.9 185.8 614.4 217.8 614.2 222.8 613.8 222.9Z"/><path fill-rule="evenodd" fill="#a4a4a4" d="M613.8 222.8 610.7 222.8 610.6 221.2 611.0 185.8 611.1 145.2 610.9 128.2 611.1 114.8 611.1 88.2 611.8 76.6 612.2 75.1 612.8 74.9 613.8 75.1 614.1 76.2 614.6 81.2 614.9 114.8 614.7 127.8 614.9 145.2 614.8 186.2 614.3 217.8 614.1 222.8 613.8 222.8Z"/><path fill-rule="evenodd" fill="#acacac" d="M613.8 222.8 610.8 222.8 610.7 221.2 611.1 185.8 611.2 145.2 611.0 128.2 611.2 114.8 611.2 88.2 611.8 78.9 612.2 76.9 612.8 76.6 613.2 76.6 613.8 76.9 614.2 78.9 614.5 81.8 614.8 114.8 614.6 127.8 614.8 145.2 614.6 186.2 614.2 217.8 614.0 222.8 613.8 222.8Z"/><path fill-rule="evenodd" fill="#b4b4b4" d="M613.8 222.8 610.9 222.8 610.9 220.8 611.2 185.8 611.3 145.2 611.1 128.2 611.3 114.8 611.3 88.2 611.8 81.1 612.2 78.7 612.8 78.4 613.2 78.4 613.8 78.7 614.3 82.2 614.7 114.8 614.5 186.2 614.1 217.8 613.9 222.8 613.8 222.8Z"/><path fill-rule="evenodd" fill="#bbbbbb" d="M613.8 222.8 611.1 222.8 611.0 220.8 611.4 185.8 611.5 145.2 611.2 128.2 611.5 115.2 611.5 88.2 611.9 82.2 612.2 80.6 612.8 80.2 613.2 80.2 613.8 80.6 614.2 84.6 614.5 114.8 614.4 186.2 614.0 217.8 613.8 222.8Z"/><path fill-rule="evenodd" fill="#c3c3c3" d="M613.2 222.8 611.2 222.8 611.1 220.8 611.5 185.8 611.6 145.2 611.3 128.2 611.6 115.2 611.6 89.8 611.8 86.0 612.2 82.6 612.8 82.0 613.2 82.1 613.8 82.6 614.1 87.2 614.4 114.8 614.3 186.2 613.9 217.8 613.6 222.8 613.2 222.8Z"/><path fill-rule="evenodd" fill="#cbcbcb" d="M613.2 222.8 611.4 222.8 611.2 220.8 611.6 185.8 611.7 145.2 611.4 128.2 611.7 115.2 611.6 98.8 611.8 88.2 612.2 85.1 612.8 84.6 613.2 84.6 613.8 85.5 613.9 87.8 614.3 114.8 614.2 185.8 613.8 217.8 613.4 222.8 613.2 222.8Z"/><path fill-rule="evenodd" fill="#d2d2d2" d="M612.8 222.8 612.0 222.8 611.8 222.5 611.5 217.8 611.8 145.2 611.6 128.2 611.8 114.8 611.8 100.2 612.2 88.2 612.2 87.6 612.8 87.1 613.2 87.2 613.6 88.2 613.8 89.3 614.2 114.8 614.0 128.2 614.2 144.8 614.0 185.8 613.8 209.6 613.2 221.5 612.8 222.8Z"/><path fill-rule="evenodd" fill="#dadada" d="M612.8 219.5 612.2 219.5 611.7 217.8 612.1 145.2 611.7 128.2 612.1 115.2 612.1 99.8 612.2 95.6 612.8 94.0 613.2 94.1 613.8 98.7 613.9 144.8 613.8 195.0 613.3 217.8 612.8 219.5Z"/><path fill-rule="evenodd" fill="#e2e2e2" d="M613.2 145.0 612.8 145.0 612.2 139.1 612.0 128.2 612.2 119.5 612.8 115.0 613.2 115.0 613.6 123.2 613.6 135.2 613.2 145.0Z"/></g>
</g></g>
<rect x="562.0" y="52.5" width="102.3" height="169.7" fill="none" stroke="#3a3a4a" stroke-width="0.7"/>
<g clip-path="url(#cp1)"><g filter="url(#jet)">
<rect x="292.2" y="52.5" width="102.3" height="169.7" fill="#1c1c1c"/>
<g filter="url(#b0_5)"><path fill-rule="evenodd" fill="#1f1f1f" d="M345.4 222.3 344.9 222.7 342.9 222.7 341.9 222.7 341.3 222.2 341.2 218.8 340.9 217.2 338.4 216.4 336.5 215.2 334.9 213.8 333.2 211.2 331.7 208.2 329.7 203.2 327.6 196.8 325.8 189.8 324.1 115.2 326.3 108.8 329.8 101.2 330.3 99.2 330.4 96.0 329.7 94.8 318.4 82.5 307.5 71.8 300.7 65.8 298.2 62.8 297.4 61.2 297.0 59.8 296.9 58.2 297.2 56.8 297.9 55.2 298.9 54.0 300.4 52.9 302.7 51.8 302.9 49.8 315.9 49.6 343.9 49.5 370.9 49.6 384.2 49.8 384.4 51.8 386.9 53.1 388.4 54.2 389.6 55.8 390.2 57.2 390.4 58.8 390.1 60.8 389.2 62.8 388.1 64.2 386.2 66.2 378.8 73.2 366.9 85.2 358.3 94.8 357.7 95.8 357.0 97.2 356.9 98.2 357.4 100.3 361.3 107.8 363.0 112.2 363.9 115.2 361.2 189.8 357.8 201.8 356.2 206.2 354.9 209.2 352.9 212.6 350.9 214.9 348.4 216.5 345.4 217.5 345.4 222.3Z"/><path fill-rule="evenodd" fill="#222222" d="M344.9 222.5 344.4 222.7 342.4 222.7 341.5 222.2 341.4 212.2 340.9 211.7 339.4 210.7 338.0 209.2 336.6 207.2 335.5 205.2 334.2 202.2 332.8 198.2 330.3 189.8 329.2 115.2 330.9 110.8 334.2 104.2 334.4 103.2 334.2 101.8 333.2 98.2 332.7 94.8 332.5 94.2 320.4 81.1 309.9 70.8 302.7 64.2 301.4 62.8 300.5 61.2 300.1 60.2 299.9 58.8 300.1 57.8 300.5 56.8 301.4 55.8 302.7 54.8 307.3 52.8 307.5 49.8 343.9 49.6 379.7 49.8 379.9 52.8 383.4 54.2 385.2 55.2 386.7 56.8 387.3 58.2 387.4 59.2 387.1 60.8 386.3 62.2 385.2 63.8 366.9 81.8 355.0 94.8 354.3 95.8 353.3 101.2 353.3 103.2 353.9 104.8 357.2 110.8 358.8 115.2 356.7 189.8 354.2 198.2 352.8 202.2 351.5 205.2 350.4 207.2 348.9 209.3 347.4 210.8 345.9 211.7 345.8 212.8 345.4 213.3 345.3 222.2 344.9 222.5Z"/><path fill-rule="evenodd" fill="#252525" d="M344.9 222.4 344.4 222.7 342.9 222.7 342.4 222.7 341.7 222.2 341.5 211.8 341.1 210.8 340.9 208.9 340.6 208.2 340.4 206.3 338.0 202.8 336.4 199.7 334.6 194.8 333.1 189.8 332.8 166.8 332.6 164.8 332.5 157.8 332.1 153.8 331.5 132.2 332.1 125.2 332.4 124.2 332.3 115.2 333.0 113.2 334.4 110.5 337.9 105.3 338.0 104.8 338.4 104.2 338.4 103.8 338.0 102.8 335.9 100.2 334.8 98.2 334.3 96.8 333.7 93.2 321.3 79.8 310.9 69.6 304.5 63.8 302.6 61.2 302.2 60.2 302.0 59.2 302.2 58.2 302.7 57.2 303.7 56.2 304.9 55.5 310.3 53.8 311.0 49.8 376.1 49.8 376.9 53.8 380.9 55.0 382.9 55.9 384.5 57.2 385.2 58.8 385.3 59.8 384.8 61.2 383.0 63.8 365.9 80.6 353.4 94.2 353.0 94.8 352.7 96.8 352.1 98.8 349.4 103.2 349.4 103.8 349.6 104.8 353.1 109.8 355.6 114.8 355.5 122.8 356.2 125.2 356.7 131.8 355.0 143.2 353.9 189.8 352.3 195.2 350.3 200.2 348.4 203.6 346.4 205.9 346.3 207.8 345.9 208.3 345.8 211.2 345.4 212.2 345.1 218.2 345.1 222.2 344.9 222.4Z"/><path fill-rule="evenodd" fill="#282828" d="M344.4 222.7 342.4 222.7 341.8 222.2 341.5 211.8 341.1 210.2 340.9 208.4 340.7 207.8 340.4 205.8 340.2 205.2 339.9 203.9 339.6 203.2 339.4 202.4 339.1 201.8 338.9 200.9 338.6 200.2 338.4 198.9 338.1 198.2 337.9 196.5 337.5 195.8 336.4 192.9 335.4 189.8 335.4 183.8 335.1 182.8 334.9 180.3 334.7 179.2 333.2 165.8 332.5 150.2 332.0 132.2 332.6 125.2 334.5 118.8 334.6 117.8 334.9 116.8 335.0 114.8 335.9 113.1 336.0 112.2 336.4 111.6 336.7 110.2 336.9 109.9 339.4 101.0 337.4 99.7 335.9 97.8 335.3 96.2 334.7 92.8 334.4 92.1 321.9 78.5 311.9 68.8 306.0 63.2 304.8 61.8 304.2 60.8 304.0 59.2 304.3 58.2 304.9 57.5 307.1 56.2 312.9 54.4 315.4 50.8 315.8 49.8 371.3 49.8 371.7 50.8 373.2 52.8 374.0 54.2 374.9 54.7 379.4 56.0 381.3 56.8 382.6 57.8 383.3 59.2 383.3 60.2 382.9 61.2 381.5 63.2 364.9 79.8 352.4 93.3 351.6 96.8 350.9 98.2 349.4 99.9 346.9 101.5 346.9 102.4 347.2 102.8 347.4 104.0 348.2 105.8 348.4 106.9 348.8 107.2 348.9 108.4 349.3 108.8 349.4 109.6 351.2 111.8 353.0 114.8 353.1 117.8 355.8 125.2 356.2 131.8 353.6 150.2 353.2 166.2 352.4 171.9 352.3 175.2 351.9 176.2 351.6 189.8 350.2 193.8 348.4 197.6 348.3 199.2 347.9 199.9 347.9 200.8 347.4 201.5 347.2 202.8 346.9 203.0 346.7 204.2 346.4 204.8 346.2 206.8 345.9 207.6 345.8 210.2 345.4 211.6 344.9 217.8 344.9 222.2 344.4 222.7Z"/><path fill-rule="evenodd" fill="#2b2b2b" d="M344.4 222.6 342.4 222.7 341.9 222.2 341.9 218.2 341.4 210.8 340.4 205.3 338.7 199.8 337.4 192.4 337.2 191.8 336.9 189.9 336.7 189.2 336.4 187.3 335.3 181.8 333.6 166.2 332.8 150.2 332.3 132.2 333.0 125.2 337.3 109.2 339.4 101.9 339.9 99.8 337.9 98.6 336.5 96.8 335.7 94.2 335.4 91.2 323.1 77.8 308.1 63.2 306.8 61.8 306.2 60.2 306.3 59.2 306.5 58.8 307.9 57.6 310.4 56.7 315.9 55.3 317.0 54.2 318.4 53.4 319.9 52.9 321.9 52.5 326.4 52.2 333.9 52.1 358.4 52.1 364.9 52.4 367.4 52.9 368.9 53.5 369.9 54.1 371.4 55.4 375.9 56.4 378.9 57.4 380.4 58.4 380.9 59.0 381.2 59.8 380.9 61.2 379.5 63.2 363.5 79.2 351.5 92.2 350.9 95.8 350.2 97.2 348.9 98.8 347.9 99.4 346.4 100.1 346.4 100.2 346.4 101.4 346.7 101.8 349.4 110.2 351.7 115.2 355.3 124.8 355.9 131.8 353.3 149.8 352.8 166.2 351.1 181.8 350.4 184.8 350.2 186.8 349.9 187.4 349.8 189.2 349.4 190.0 349.3 191.8 348.9 192.5 348.8 194.8 348.4 195.7 347.8 200.2 346.4 204.2 345.9 207.0 344.9 216.9 344.9 222.2 344.4 222.6Z"/><path fill-rule="evenodd" fill="#2e2e2e" d="M344.4 222.6 342.4 222.6 342.0 222.2 341.9 217.5 341.4 210.5 340.4 205.0 338.8 199.8 335.6 182.2 333.8 165.8 333.0 150.2 332.6 132.2 333.3 125.2 337.2 110.2 339.9 100.5 339.9 98.6 338.9 98.1 338.0 97.2 337.1 95.8 336.4 93.7 336.3 90.2 335.9 89.3 324.5 76.8 310.7 63.2 309.4 61.8 309.1 60.8 309.2 59.8 309.6 59.2 311.4 58.2 314.9 57.2 318.9 56.5 320.9 55.5 323.9 54.8 327.9 54.5 335.4 54.5 356.9 54.5 362.9 54.7 365.9 55.3 368.4 56.6 372.1 57.2 375.9 58.2 377.8 59.2 378.4 60.2 378.5 60.8 378.1 61.8 377.0 63.2 362.1 78.2 350.9 90.4 350.4 94.1 349.4 96.7 347.9 98.2 345.9 99.1 345.9 100.1 348.9 109.4 352.7 118.2 355.0 124.8 355.5 131.8 353.0 149.8 352.6 165.8 350.8 181.8 348.9 191.6 347.8 199.8 346.4 204.0 345.9 206.5 344.9 216.3 344.9 222.2 344.4 222.6Z"/><path fill-rule="evenodd" fill="#313131" d="M344.4 222.6 342.4 222.6 342.0 222.2 341.9 216.5 341.4 210.3 340.5 204.8 339.0 199.8 335.8 182.2 334.0 166.2 333.3 150.2 332.9 132.2 333.5 125.2 337.3 110.2 340.1 100.2 340.0 97.8 338.4 96.2 337.3 93.8 337.0 91.8 337.2 87.8 336.9 85.1 327.1 74.2 317.0 64.2 316.1 63.2 315.7 62.2 315.7 61.8 315.9 61.3 316.8 60.8 318.8 60.2 321.9 59.9 322.5 58.8 323.5 57.8 324.9 57.2 327.4 56.8 332.9 56.6 349.9 56.6 356.9 56.7 360.4 56.9 362.5 57.2 363.9 57.8 364.9 58.8 365.2 59.8 365.4 60.0 368.4 60.3 370.9 61.0 371.9 61.7 372.0 62.2 371.6 63.2 370.4 64.8 359.1 76.2 349.9 86.3 349.8 87.8 350.0 91.8 349.6 94.2 348.9 95.8 348.2 96.8 347.4 97.4 345.9 98.0 345.9 100.2 348.9 109.8 352.3 117.8 354.7 124.8 355.3 131.8 352.8 149.8 352.4 166.2 350.7 181.8 348.8 191.8 347.6 199.8 345.9 206.0 344.9 215.8 344.9 222.2 344.4 222.6Z"/><path fill-rule="evenodd" fill="#353535" d="M344.4 222.6 342.9 222.7 342.4 222.6 342.0 222.2 341.9 215.7 341.4 210.0 340.5 204.8 339.1 199.8 336.0 182.2 334.2 165.8 333.5 150.2 333.2 132.2 333.7 125.8 337.6 109.8 340.2 100.2 340.5 97.2 340.4 96.7 339.2 95.8 338.3 94.2 338.0 93.2 337.7 91.8 337.8 88.2 339.2 74.2 339.2 73.2 339.0 72.8 334.7 69.2 330.4 65.2 328.7 63.2 328.0 61.8 328.3 60.8 329.0 60.2 330.6 59.8 332.9 59.5 345.4 59.3 354.9 59.5 356.9 59.8 358.5 60.2 359.1 60.8 359.4 61.7 358.8 63.2 356.7 65.8 351.8 70.2 347.9 73.4 347.8 74.8 349.1 88.2 349.2 92.2 348.9 93.8 347.9 95.5 346.9 96.5 345.6 97.2 345.8 97.8 345.8 100.2 348.8 109.8 352.2 118.2 354.5 124.8 355.0 131.8 352.5 149.8 352.2 165.8 350.5 181.8 348.6 192.2 347.5 199.8 345.9 205.5 344.9 215.4 344.8 222.2 344.4 222.6Z"/><path fill-rule="evenodd" fill="#383838" d="M344.4 222.5 342.9 222.7 342.4 222.6 342.0 222.2 341.9 215.0 341.4 209.8 340.6 204.8 339.2 199.8 336.1 181.8 334.4 165.8 333.7 149.8 333.4 132.2 334.1 124.8 340.2 100.2 340.4 98.6 340.6 95.8 339.4 94.4 338.9 93.5 338.6 92.2 338.5 90.8 338.9 84.6 340.5 70.8 340.8 68.8 341.4 67.2 342.4 66.0 343.4 65.7 344.4 65.9 345.3 66.8 346.0 68.2 346.3 69.2 346.9 74.1 348.4 88.8 348.4 91.8 347.9 93.7 346.9 95.1 345.4 96.1 345.4 97.2 345.7 99.8 348.7 109.8 352.1 118.2 354.3 124.8 354.8 131.8 352.3 149.8 352.0 165.8 350.3 181.8 348.5 192.2 347.4 199.8 345.9 205.2 344.9 215.0 344.8 222.2 344.4 222.5Z"/><path fill-rule="evenodd" fill="#3b3b3b" d="M344.4 222.5 342.9 222.7 342.4 222.6 342.1 222.2 341.9 214.4 341.4 209.5 340.6 204.8 339.2 199.8 336.2 181.8 334.6 165.8 333.9 149.8 333.7 132.2 334.3 124.8 340.3 100.2 340.7 96.8 341.0 95.8 340.9 94.4 339.9 93.3 339.5 91.8 339.5 87.8 341.4 70.9 341.9 69.2 342.3 68.2 342.9 67.6 343.4 67.5 343.9 67.6 344.6 68.2 345.4 70.5 346.4 77.7 347.5 88.2 347.6 90.8 347.3 92.8 346.4 94.1 344.9 95.2 345.3 95.8 345.6 99.8 348.5 109.8 351.7 117.8 354.0 124.8 354.5 131.8 352.1 149.8 351.8 166.2 350.2 181.8 348.4 191.8 347.3 199.8 345.9 205.2 344.9 214.6 344.8 222.2 344.4 222.5Z"/><path fill-rule="evenodd" fill="#3e3e3e" d="M344.4 222.5 342.9 222.7 342.1 222.2 341.9 213.7 341.4 209.3 340.7 204.8 339.3 199.8 336.4 181.8 334.8 165.8 334.1 149.8 333.9 132.2 334.5 124.8 340.4 100.2 341.2 94.2 341.5 93.8 341.4 93.1 340.9 92.2 340.6 91.2 340.6 87.8 341.9 76.6 342.7 73.2 342.9 72.5 343.4 72.0 343.9 72.3 344.3 73.2 344.9 76.0 346.4 87.9 346.5 90.2 346.3 91.8 345.8 92.8 344.9 93.5 344.9 95.2 345.2 96.2 345.6 99.8 348.4 109.9 351.7 118.2 353.8 124.8 354.3 131.8 351.9 149.8 351.6 165.8 350.0 181.8 348.3 191.8 347.3 199.8 345.8 205.2 344.9 214.3 344.7 222.2 344.4 222.5Z"/><path fill-rule="evenodd" fill="#414141" d="M344.4 222.5 342.9 222.6 342.1 222.2 341.8 211.8 340.8 205.2 339.4 199.8 336.5 181.8 335.0 165.8 334.3 149.8 334.1 132.2 334.8 124.8 338.1 109.8 340.4 100.2 340.8 97.2 341.5 93.8 341.6 92.2 342.0 91.8 342.0 90.2 342.3 89.8 342.4 87.0 342.9 84.8 343.4 84.1 343.9 84.6 344.6 87.2 344.7 89.2 344.4 90.7 344.4 92.2 344.8 93.2 344.8 95.2 345.6 100.2 348.4 110.2 351.4 117.8 353.6 124.8 354.1 131.8 351.7 149.8 351.4 166.2 349.9 181.8 348.2 191.8 347.2 199.8 345.8 205.2 344.9 213.9 344.7 222.2 344.4 222.5Z"/><path fill-rule="evenodd" fill="#444444" d="M344.4 222.4 343.9 222.6 342.9 222.6 342.1 222.2 341.9 212.2 340.9 205.2 339.5 199.8 336.7 181.8 335.1 165.8 334.5 149.8 334.3 132.2 334.9 125.2 338.2 109.8 340.5 100.2 340.8 97.2 341.7 92.8 342.0 91.8 342.1 90.2 342.4 89.9 342.9 89.8 343.9 89.9 344.3 90.2 344.4 92.8 344.7 93.8 345.5 100.2 348.2 109.8 351.2 117.8 353.4 124.8 353.9 131.8 351.6 149.8 351.2 166.2 349.7 181.8 348.0 192.2 347.1 199.8 345.7 205.2 344.9 213.8 344.7 222.2 344.4 222.4Z"/><path fill-rule="evenodd" fill="#474747" d="M344.4 222.4 343.9 222.6 342.9 222.6 342.2 222.2 341.9 212.1 340.9 205.2 339.6 199.8 336.8 181.8 335.3 165.8 334.6 149.8 334.5 132.2 335.1 125.2 338.3 109.8 340.6 100.2 340.9 97.2 342.3 90.2 342.9 89.9 343.4 89.9 344.1 90.2 345.5 100.2 348.1 109.8 351.0 117.8 353.2 124.8 353.7 131.8 351.4 149.8 351.1 165.8 349.6 181.8 347.9 192.1 347.0 199.8 345.7 205.2 344.9 213.8 344.6 222.2 344.4 222.4Z"/><path fill-rule="evenodd" fill="#4a4a4a" d="M344.4 222.4 343.9 222.6 342.9 222.6 342.2 222.2 341.9 211.8 341.0 205.2 339.6 199.8 336.9 181.8 335.5 165.8 334.8 149.8 334.7 132.2 335.3 125.2 338.4 109.8 340.6 100.2 340.9 97.4 342.3 90.8 342.5 90.2 342.9 90.0 343.4 90.0 343.9 90.4 345.4 100.2 348.0 109.8 350.9 117.8 353.0 124.8 353.5 131.8 351.2 149.8 350.9 166.2 349.5 181.8 347.9 191.8 346.9 199.8 345.7 205.2 344.9 212.9 344.6 222.2 344.4 222.4Z"/><path fill-rule="evenodd" fill="#4c4c4c" d="M344.4 222.4 343.9 222.6 342.9 222.6 342.2 222.2 342.0 211.8 341.0 205.2 339.7 199.8 337.1 181.8 335.6 165.8 335.0 149.8 334.9 132.2 335.5 125.2 338.4 110.2 340.7 100.2 341.0 97.8 341.9 93.2 342.4 90.7 342.7 90.2 342.9 90.1 343.7 90.2 343.9 91.0 345.3 100.2 347.8 109.8 350.7 117.8 352.8 124.8 353.2 131.8 351.0 149.8 350.7 166.2 349.3 181.8 347.8 191.8 346.9 199.8 345.6 205.2 344.9 213.2 344.6 222.2 344.4 222.4Z"/><path fill-rule="evenodd" fill="#505050" d="M344.4 222.3 343.9 222.6 342.9 222.6 342.2 222.2 342.0 211.8 341.0 205.2 339.7 199.8 337.1 181.8 335.7 165.8 335.1 149.8 335.0 132.2 335.5 125.2 338.5 110.2 340.7 100.2 341.4 95.4 342.4 90.8 342.9 90.1 343.6 90.2 343.9 91.2 345.3 100.2 347.8 109.8 350.7 117.8 352.8 124.8 353.2 131.8 351.0 149.8 350.7 166.2 349.3 181.8 347.8 191.8 346.8 199.8 345.6 205.2 344.9 213.2 344.4 222.3Z"/><path fill-rule="evenodd" fill="#585858" d="M344.4 222.3 343.4 222.6 342.9 222.6 342.3 222.2 342.0 211.8 341.1 205.2 339.9 199.8 337.4 181.8 336.1 165.8 335.5 149.8 335.5 132.2 336.0 125.2 338.9 109.8 340.8 100.2 341.4 96.3 342.4 92.2 342.9 91.5 343.4 91.5 343.9 92.8 345.2 100.2 347.5 109.8 350.4 118.2 352.3 124.8 352.6 131.8 350.5 149.8 350.3 165.8 349.0 181.8 347.5 191.8 346.7 199.8 345.5 205.2 344.8 213.2 344.4 222.3Z"/><path fill-rule="evenodd" fill="#606060" d="M343.9 222.5 342.9 222.6 342.3 222.2 342.1 211.8 341.2 204.8 340.1 199.8 337.9 182.2 336.5 165.8 336.0 149.8 336.1 132.2 336.6 125.2 341.4 97.3 342.4 94.0 342.9 93.8 343.4 93.8 343.9 94.7 345.1 100.8 347.2 109.8 349.9 118.0 351.7 124.8 352.1 131.8 350.1 149.8 349.9 165.8 348.6 181.8 347.2 191.8 346.5 199.8 345.4 205.2 344.5 217.8 344.4 222.2 343.9 222.5Z"/><path fill-rule="evenodd" fill="#676767" d="M343.9 222.5 342.9 222.5 342.4 222.2 342.2 211.8 341.3 204.8 340.4 199.8 338.2 182.2 337.0 165.8 336.5 149.8 336.7 132.2 337.2 124.8 339.4 110.0 341.4 98.7 341.9 96.8 342.4 96.0 342.9 96.0 343.4 96.0 343.9 96.5 344.4 98.2 346.9 109.8 349.4 117.9 351.2 124.8 351.5 131.8 349.6 149.8 349.4 165.8 348.2 181.8 346.9 192.2 346.2 199.8 345.2 205.2 344.4 218.0 344.4 222.2 343.9 222.5Z"/><path fill-rule="evenodd" fill="#6f6f6f" d="M343.9 222.5 342.9 222.5 342.4 222.2 342.2 211.8 341.5 205.2 340.6 199.8 338.6 181.8 337.6 165.8 337.0 150.2 337.4 132.2 337.9 124.8 339.9 109.8 341.4 100.3 341.9 98.3 342.4 97.8 342.9 97.7 343.4 97.7 343.9 98.1 344.4 99.7 346.6 110.2 349.4 120.1 350.6 125.2 350.8 131.8 349.0 149.8 348.8 165.8 347.8 181.8 346.6 191.8 346.0 200.2 345.1 205.2 344.4 217.8 344.3 222.2 343.9 222.5Z"/><path fill-rule="evenodd" fill="#777777" d="M343.9 222.5 342.9 222.5 342.5 222.2 342.3 211.8 340.9 200.2 339.2 181.8 338.3 166.2 337.8 150.2 338.3 132.2 338.8 124.8 340.4 109.8 341.9 100.2 342.4 99.5 342.9 99.4 343.4 99.4 343.9 99.8 346.0 110.2 348.4 119.0 349.7 125.2 349.8 131.8 348.3 149.8 348.1 166.2 347.2 181.8 346.2 191.8 345.7 199.8 345.0 205.2 344.4 217.8 344.3 222.2 343.9 222.5Z"/><path fill-rule="evenodd" fill="#7e7e7e" d="M343.9 222.4 342.9 222.5 342.5 222.2 342.4 211.8 341.4 201.8 339.9 180.0 339.3 166.2 338.9 150.2 340.9 117.3 341.9 111.1 342.4 110.2 342.9 110.1 343.9 110.1 344.4 110.7 345.4 113.2 346.9 118.1 348.0 124.8 348.1 131.8 347.1 150.2 346.9 169.3 346.4 181.8 345.6 191.8 345.3 199.8 344.8 205.2 344.3 222.2 343.9 222.4Z"/><path fill-rule="evenodd" fill="#868686" d="M343.9 222.4 342.9 222.4 342.6 222.2 342.5 212.2 341.8 201.8 341.9 195.8 342.2 191.8 342.2 160.2 342.4 154.0 342.9 150.1 343.5 152.8 344.2 165.2 344.2 191.8 344.6 195.8 344.8 201.2 344.2 222.2 343.9 222.4Z"/><path fill-rule="evenodd" fill="#8e8e8e" d="M343.9 222.4 342.9 222.4 342.6 222.2 342.6 212.2 342.1 204.8 342.4 200.8 342.9 197.9 343.4 197.5 344.3 201.2 344.5 203.8 344.2 222.2 343.9 222.4Z"/><path fill-rule="evenodd" fill="#959595" d="M343.9 222.4 342.9 222.4 342.7 222.2 342.7 212.2 342.4 204.8 342.9 202.0 343.4 201.7 344.0 203.2 344.3 208.2 344.1 222.2 343.9 222.4Z"/><path fill-rule="evenodd" fill="#9d9d9d" d="M343.9 222.3 342.7 222.2 342.7 207.2 342.9 204.6 343.4 204.3 343.9 206.1 344.2 210.2 344.1 222.2 343.9 222.3Z"/><path fill-rule="evenodd" fill="#a4a4a4" d="M343.9 222.3 342.8 222.2 342.9 208.8 342.9 208.1 343.4 206.8 343.9 209.0 344.1 212.8 343.9 222.3Z"/><path fill-rule="evenodd" fill="#acacac" d="M343.9 222.3 342.8 222.2 342.9 213.8 343.4 209.4 343.9 211.7 344.0 213.2 343.9 222.3Z"/><path fill-rule="evenodd" fill="#b4b4b4" d="M343.9 222.3 342.8 222.2 342.9 214.0 343.4 211.9 343.9 213.5 343.9 222.3Z"/><path fill-rule="evenodd" fill="#bbbbbb" d="M343.4 222.3 342.9 222.2 342.9 218.2 342.9 215.4 343.4 213.1 343.9 215.2 344.0 217.8 343.9 222.2 343.4 222.3Z"/><path fill-rule="evenodd" fill="#c3c3c3" d="M343.4 222.3 342.9 222.2 342.9 218.2 342.9 216.8 343.4 214.1 343.7 215.8 343.9 218.2 343.8 222.2 343.4 222.3Z"/><path fill-rule="evenodd" fill="#cbcbcb" d="M343.4 222.3 343.0 222.2 343.0 218.2 343.4 215.2 343.8 218.2 343.7 222.2 343.4 222.3Z"/><path fill-rule="evenodd" fill="#d2d2d2" d="M343.4 222.3 343.2 222.2 343.2 218.2 343.4 216.2 343.6 218.2 343.6 222.2 343.4 222.3Z"/><path fill-rule="evenodd" fill="#dadada" d="M343.4 222.3 343.4 217.3 343.4 222.3Z"/></g>
</g></g>
<rect x="292.2" y="52.5" width="102.3" height="169.7" fill="none" stroke="#3a3a4a" stroke-width="0.7"/>
<g clip-path="url(#cp0)"><g filter="url(#jet)">
<rect x="157.5" y="52.5" width="102.3" height="169.7" fill="#1c1c1c"/>
<g filter="url(#b0_5)"><path fill-rule="evenodd" fill="#1f1f1f" d="M211.8 222.7 210.2 222.7 209.3 221.8 210.2 220.8 210.8 220.8 211.2 220.3 212.2 220.3 212.8 219.8 213.8 219.8 214.2 219.3 215.8 219.3 215.8 218.8 213.9 216.2 212.1 212.8 210.5 208.2 208.9 202.2 207.4 195.8 206.0 188.2 203.2 168.9 201.8 159.9 200.8 155.2 199.3 151.2 198.8 150.8 189.2 145.9 183.8 142.5 177.8 138.0 172.6 133.2 168.8 128.7 165.1 124.8 161.5 119.8 158.9 114.8 157.6 111.2 155.8 105.7 154.8 103.7 154.8 88.3 155.2 87.4 155.8 85.9 158.6 74.8 160.9 68.8 162.4 65.8 164.0 63.2 165.9 60.8 167.7 58.8 171.8 55.4 178.5 51.2 179.6 50.2 179.8 49.8 206.8 49.6 228.8 49.8 229.7 51.2 234.1 55.2 236.9 58.8 238.4 61.2 239.5 63.8 240.4 66.2 241.0 68.8 241.3 71.8 241.4 74.8 241.1 77.8 240.4 80.8 239.5 83.2 238.1 85.8 232.8 93.5 232.0 95.2 231.5 97.2 231.8 100.2 234.1 109.2 235.2 116.8 236.0 131.2 236.6 149.2 236.6 167.8 236.4 175.2 235.3 187.8 234.5 194.2 233.4 200.8 232.0 207.2 230.5 212.2 229.0 215.8 228.1 217.2 226.8 218.8 225.2 220.0 223.2 220.9 221.2 221.2 218.8 220.7 217.2 220.7 216.8 221.2 215.8 221.2 215.2 221.7 213.8 221.7 213.2 222.2 212.2 222.2 211.8 222.7Z"/><path fill-rule="evenodd" fill="#222222" d="M211.8 222.6 210.2 222.6 209.5 221.8 210.2 220.9 210.9 220.8 211.2 220.4 212.2 220.3 212.8 219.9 213.8 219.8 214.2 219.4 215.8 219.3 216.2 218.9 217.2 218.8 217.8 218.3 218.8 218.3 219.5 217.8 219.2 217.1 216.8 214.7 215.3 212.2 213.6 207.8 212.0 202.2 210.5 195.8 209.1 188.2 206.2 168.5 204.8 159.5 203.6 154.2 202.3 150.2 199.2 149.0 192.2 145.5 186.2 142.1 182.8 139.6 179.2 136.9 175.8 133.8 173.7 131.8 171.1 128.8 168.9 125.8 163.0 116.2 161.6 113.2 160.5 110.2 159.6 106.8 158.9 103.2 158.5 99.2 158.5 94.8 158.8 89.8 159.6 84.2 160.6 79.2 161.6 75.2 163.1 71.2 164.8 67.8 166.3 65.2 168.2 62.8 170.0 60.8 172.2 58.8 174.8 57.1 177.2 55.7 186.5 51.2 187.8 50.2 188.1 49.8 222.2 49.8 222.4 50.2 223.4 51.2 228.2 54.3 230.2 55.8 231.8 57.2 233.5 59.2 235.2 61.8 236.4 64.2 237.5 67.2 238.1 70.2 238.4 73.2 238.3 75.8 237.9 78.2 237.2 80.8 236.3 82.8 235.2 84.8 231.2 90.2 229.8 92.5 228.8 94.8 228.4 97.2 228.6 100.2 231.1 109.8 232.2 116.8 233.0 131.2 233.5 148.8 233.6 167.2 233.4 174.2 232.5 186.2 230.9 197.8 229.5 204.8 227.8 210.8 226.4 213.8 224.8 216.0 224.5 216.8 223.2 218.3 223.2 218.8 222.8 219.2 222.2 219.2 221.8 219.6 220.8 219.7 220.2 220.1 218.8 220.2 218.2 220.6 217.2 220.7 216.8 221.1 215.8 221.2 215.2 221.6 213.8 221.7 213.2 222.1 212.2 222.2 211.8 222.6Z"/><path fill-rule="evenodd" fill="#252525" d="M211.8 222.4 210.2 222.4 209.6 221.8 210.2 221.1 211.2 220.6 213.8 219.9 214.2 219.5 215.8 219.4 216.2 219.0 217.2 218.9 217.8 218.5 218.8 218.4 219.2 218.0 220.2 217.8 219.1 215.8 218.2 212.6 217.1 210.8 215.8 207.8 214.6 203.8 213.3 198.8 211.2 187.8 208.4 168.8 206.8 159.2 205.7 153.8 204.4 149.8 201.8 148.9 198.8 147.6 191.8 144.1 187.2 141.4 183.8 139.1 179.8 135.9 176.1 132.8 173.3 129.8 170.5 126.2 168.5 123.2 166.5 119.8 165.1 116.8 162.0 107.8 161.2 103.8 160.7 99.8 160.6 95.2 160.9 90.2 161.6 84.8 162.7 79.2 163.9 75.2 165.4 71.2 167.2 67.8 169.2 64.8 171.2 62.5 173.8 60.3 176.2 58.6 179.7 56.8 185.2 54.5 198.0 50.8 199.2 50.2 199.8 49.8 213.2 49.8 214.8 50.8 215.8 51.0 222.8 53.9 226.8 55.9 228.6 57.2 230.3 58.8 232.0 60.8 233.3 62.8 234.3 64.8 235.3 67.2 235.9 69.8 236.2 72.2 236.2 74.8 236.0 76.8 235.6 78.8 234.9 80.8 233.2 83.8 229.2 89.3 227.7 91.8 226.7 94.2 226.2 96.8 226.5 100.2 229.1 110.8 230.2 118.8 231.4 148.2 231.5 166.2 232.0 170.2 231.5 175.2 231.2 176.2 230.7 183.8 228.6 199.2 228.2 200.4 228.1 202.2 227.8 203.1 227.6 204.8 227.2 205.6 227.0 207.2 226.8 207.7 226.0 211.2 224.6 215.2 223.7 217.2 223.2 217.7 223.1 218.8 222.8 219.1 220.8 219.6 220.2 220.0 218.8 220.1 218.2 220.5 217.2 220.6 216.8 221.0 215.8 221.1 215.2 221.4 213.8 221.6 211.8 222.4Z"/><path fill-rule="evenodd" fill="#282828" d="M211.8 222.3 210.2 222.3 209.7 221.8 210.2 221.2 211.2 220.7 214.2 219.7 215.2 219.6 220.7 217.8 219.9 216.8 219.0 214.2 217.8 208.5 217.4 207.8 217.2 206.1 216.9 205.2 216.8 203.7 216.3 202.8 216.2 201.8 214.7 195.2 212.4 182.8 211.7 176.8 211.4 175.8 211.2 173.2 210.9 172.2 210.7 169.8 209.1 159.8 207.9 153.8 206.6 149.8 206.2 149.1 203.2 148.5 199.2 146.9 191.8 143.1 187.2 140.4 183.2 137.7 179.2 134.4 175.8 131.2 173.1 128.2 170.5 124.8 168.0 120.8 166.0 116.8 164.9 113.8 163.9 109.2 163.8 106.2 162.9 100.2 162.7 95.8 163.0 90.2 163.8 84.8 164.8 79.8 166.1 75.2 167.8 71.2 169.7 67.8 171.8 65.1 174.1 62.8 176.9 60.8 180.4 58.8 184.2 57.1 188.8 55.7 192.8 54.9 199.6 53.8 200.2 53.4 205.2 53.3 206.8 53.6 211.2 53.7 212.8 52.9 214.2 52.6 215.2 52.7 216.8 53.1 218.2 54.0 219.8 55.2 222.7 56.2 224.8 57.2 227.2 58.9 229.2 60.7 231.2 63.4 232.9 66.8 233.8 70.2 234.1 73.8 233.8 77.2 232.8 80.2 231.5 82.8 227.4 88.2 225.8 90.8 224.6 93.8 224.1 96.8 224.1 98.8 224.4 100.8 226.8 109.7 227.6 114.2 228.2 119.2 228.5 125.8 229.6 128.2 228.9 137.2 229.4 155.2 229.8 159.7 230.0 160.2 231.6 169.8 230.0 184.8 229.1 187.2 229.0 192.2 228.4 197.2 227.4 203.2 226.3 208.2 225.0 213.2 223.5 217.2 223.2 217.5 223.1 218.8 222.8 219.1 221.2 219.4 220.2 219.8 219.2 219.9 215.2 221.3 214.2 221.4 211.8 222.3Z"/><path fill-rule="evenodd" fill="#2b2b2b" d="M211.2 222.3 210.2 222.2 209.8 221.8 210.2 221.3 211.2 220.8 211.8 220.7 214.2 219.8 215.2 219.7 219.2 218.3 220.2 218.2 220.8 217.8 219.8 215.8 218.9 212.8 217.1 204.2 215.2 193.5 214.2 188.7 213.1 184.8 211.1 170.2 209.9 157.2 208.2 148.4 207.8 147.4 206.8 147.9 205.2 148.1 203.8 147.8 202.2 147.4 199.2 146.1 192.2 142.5 188.8 140.5 184.8 137.8 181.2 135.2 177.9 132.2 175.4 129.8 172.9 126.8 170.7 123.8 168.5 120.2 166.8 116.8 165.6 113.8 165.0 111.2 164.6 108.2 164.6 105.8 165.0 103.8 164.4 99.8 164.4 97.2 164.7 95.8 165.8 93.3 166.4 87.8 167.2 82.5 168.2 78.4 169.2 75.4 170.8 72.0 172.4 69.2 173.9 67.2 175.9 65.2 178.6 63.2 181.2 61.8 185.9 59.8 191.2 58.3 194.8 55.9 197.8 54.6 200.2 53.9 202.2 53.6 204.8 53.6 206.8 54.0 208.8 55.0 211.2 57.1 211.8 57.2 212.5 55.2 213.0 54.8 213.8 54.4 214.8 54.3 215.8 54.4 217.8 55.3 219.2 56.6 221.2 58.9 223.8 60.2 225.9 61.8 228.1 64.2 229.2 66.1 230.2 68.5 231.5 73.2 231.6 74.8 231.3 78.8 230.4 81.8 229.8 82.6 229.0 83.2 226.6 84.2 224.1 87.8 222.6 90.2 221.8 92.2 221.2 94.8 221.0 96.8 221.0 98.8 221.4 101.2 223.8 110.2 224.9 117.2 225.2 118.3 225.7 118.8 225.8 119.3 226.1 119.8 226.8 123.9 229.1 127.8 229.2 128.2 228.1 139.8 228.2 142.8 229.2 158.2 231.3 170.2 229.7 184.8 228.9 187.2 228.8 191.2 228.2 197.2 226.5 206.8 225.1 212.2 223.8 215.8 223.0 218.8 222.2 219.2 221.2 219.3 220.2 219.7 219.2 219.8 215.2 221.2 214.2 221.3 211.8 222.2 211.2 222.3Z"/><path fill-rule="evenodd" fill="#2e2e2e" d="M212.2 221.9 211.8 222.2 210.2 222.2 209.8 221.8 210.2 221.3 211.2 220.8 211.9 220.8 212.8 220.3 213.4 220.2 214.2 219.8 215.4 219.8 217.8 218.8 218.4 218.8 219.2 218.3 220.4 218.2 220.8 217.8 220.8 217.2 220.4 216.8 219.8 215.2 219.0 212.2 217.4 204.8 214.8 190.3 213.4 184.8 211.4 170.2 210.2 158.2 208.2 147.2 207.8 146.0 207.0 146.8 205.8 147.2 204.2 147.2 202.8 146.8 200.2 145.7 194.2 142.8 190.2 140.6 186.2 138.0 182.5 135.2 178.8 132.1 176.2 129.6 173.8 126.7 171.5 123.8 169.4 120.2 167.6 116.8 166.4 113.8 165.6 110.8 165.3 108.2 165.4 105.8 165.9 103.8 165.3 100.2 165.2 97.8 166.4 93.2 167.1 92.2 167.8 91.8 168.8 91.6 169.8 91.8 170.2 91.2 171.0 87.8 172.5 83.2 176.0 75.8 178.4 71.8 180.6 68.8 183.9 65.2 188.2 61.1 190.8 59.1 194.2 56.6 196.2 55.4 199.2 54.3 201.8 53.9 205.8 54.0 208.2 55.0 209.8 56.1 211.4 57.8 213.8 60.9 215.2 62.3 215.4 62.2 214.5 58.8 214.5 57.8 214.7 57.2 215.2 56.9 215.8 56.8 217.2 57.4 219.8 59.9 227.8 69.9 229.2 72.4 229.8 74.8 229.6 78.2 229.2 79.5 228.7 80.8 228.2 81.3 227.2 81.9 226.2 82.2 224.2 82.2 221.6 84.2 219.2 86.6 218.2 88.0 217.2 90.2 216.8 92.0 216.4 94.8 217.2 100.5 217.5 100.8 217.8 102.7 218.1 103.2 218.2 104.8 218.6 105.2 218.8 106.4 219.0 106.8 219.8 109.5 223.1 114.8 225.5 119.2 226.0 120.2 226.7 124.2 228.8 127.8 229.0 128.2 227.9 140.2 229.0 157.8 231.0 170.2 229.5 184.8 228.7 187.2 228.5 192.2 228.0 196.8 227.0 203.2 225.1 211.2 223.8 215.2 223.5 216.8 223.2 217.2 222.9 218.8 222.2 219.1 221.1 219.2 220.2 219.7 219.1 219.8 216.8 220.7 216.1 220.8 215.2 221.2 214.1 221.2 213.2 221.7 212.2 221.9Z"/><path fill-rule="evenodd" fill="#313131" d="M212.2 221.9 211.8 222.2 210.2 222.2 209.8 221.8 210.2 221.3 211.2 220.8 212.0 220.8 212.8 220.3 213.5 220.2 214.2 219.8 215.5 219.8 216.2 219.3 217.0 219.2 217.8 218.8 218.5 218.8 219.2 218.3 220.5 218.2 220.9 217.8 219.6 213.8 218.3 208.2 214.8 189.5 213.6 184.8 211.6 170.2 210.4 157.8 207.8 143.5 207.4 143.2 207.2 140.9 206.8 140.7 206.1 141.2 206.8 142.2 207.2 143.2 207.3 144.2 207.0 145.2 206.6 145.8 205.8 146.2 203.8 146.2 200.2 144.9 192.2 140.9 187.8 138.2 183.6 135.2 179.8 132.0 176.9 129.2 174.2 126.2 171.7 122.8 169.3 118.8 167.7 115.2 166.6 111.8 166.1 108.8 166.2 106.2 166.9 104.2 166.1 99.2 166.8 93.8 167.5 92.8 168.2 92.3 170.2 92.3 171.1 88.2 172.6 83.8 173.6 81.2 176.1 76.2 178.1 72.8 180.1 69.8 181.4 68.2 184.2 65.1 189.2 60.5 193.2 57.5 195.8 55.9 199.2 54.5 201.8 54.1 204.8 54.1 206.8 54.5 208.8 55.6 210.2 56.9 212.0 58.8 213.8 61.2 217.4 65.2 220.2 69.2 224.2 73.8 224.2 74.2 225.2 75.2 225.2 75.8 225.7 76.2 225.8 77.5 226.1 78.2 225.5 80.2 223.8 82.2 219.8 85.7 218.2 87.6 217.2 89.7 216.8 91.2 216.2 94.8 217.8 103.2 219.7 109.8 222.9 114.8 225.6 119.8 226.3 123.8 228.6 127.8 228.7 128.2 227.7 140.2 228.7 157.8 230.8 170.2 229.3 184.8 228.5 187.2 228.4 191.8 227.4 199.2 226.0 206.8 224.1 214.2 223.8 214.9 223.6 216.2 222.9 218.8 222.2 219.1 221.0 219.2 220.2 219.7 219.0 219.8 218.2 220.2 217.5 220.2 216.8 220.7 216.0 220.8 215.2 221.2 214.0 221.2 213.2 221.7 212.2 221.9Z"/><path fill-rule="evenodd" fill="#353535" d="M212.2 221.8 211.8 222.2 210.8 222.2 210.2 222.2 209.8 221.8 210.2 221.3 210.7 221.2 211.2 220.8 212.2 220.8 212.8 220.3 213.7 220.2 214.2 219.8 215.7 219.8 216.2 219.3 217.2 219.2 217.8 218.8 218.7 218.8 219.2 218.3 220.7 218.2 220.9 217.8 218.9 210.2 214.8 188.7 213.8 184.8 211.8 170.2 210.6 158.2 207.2 140.0 205.8 139.7 204.2 139.8 203.9 140.2 205.7 142.2 206.1 143.8 205.8 144.8 205.2 145.1 204.2 145.3 203.2 145.2 199.6 143.8 192.6 140.2 188.4 137.8 184.2 134.8 180.6 131.8 177.8 129.1 175.2 126.2 172.8 122.9 170.7 119.8 168.7 115.8 167.5 112.2 167.0 109.2 167.0 107.8 167.2 106.3 168.2 105.2 167.4 100.8 167.4 97.8 167.1 95.8 167.2 94.2 167.8 93.3 168.2 93.0 169.2 92.8 170.2 93.2 171.1 89.2 172.6 84.2 174.6 79.8 178.0 73.2 180.4 69.8 181.6 68.2 184.4 65.2 189.8 60.4 193.8 57.4 195.8 56.1 198.8 54.9 201.8 54.3 204.8 54.3 206.8 54.7 208.7 55.8 210.4 57.2 211.8 58.8 214.2 62.2 217.1 65.2 219.6 68.8 223.3 73.2 225.0 75.8 225.4 76.8 225.6 78.2 225.4 79.8 224.9 80.8 223.4 82.2 219.8 85.4 218.0 87.8 216.7 90.8 216.2 92.8 216.1 94.8 216.8 99.0 217.8 103.6 219.6 109.8 223.0 115.2 225.4 119.8 226.2 124.1 228.4 128.2 227.5 140.2 228.6 157.8 230.6 170.2 229.1 184.8 228.3 187.2 228.2 191.8 227.6 197.2 226.1 205.8 224.1 213.8 223.8 214.6 223.0 218.2 222.8 218.8 222.2 219.1 220.8 219.2 220.2 219.7 218.8 219.8 218.2 220.2 217.3 220.2 216.8 220.7 215.8 220.8 215.2 221.2 213.8 221.2 213.2 221.7 212.2 221.8Z"/><path fill-rule="evenodd" fill="#383838" d="M211.8 222.2 210.2 222.2 209.8 221.8 210.2 221.3 210.8 221.3 211.2 220.8 212.2 220.8 212.8 220.3 213.8 220.3 214.2 219.8 215.8 219.8 216.2 219.3 217.2 219.3 217.8 218.8 218.8 218.8 219.2 218.3 220.8 218.3 220.9 217.8 219.0 210.2 214.8 188.2 213.9 184.8 212.0 170.2 210.8 157.8 207.2 139.3 204.8 138.9 201.3 137.2 195.8 135.1 195.6 135.2 196.1 135.8 202.2 140.2 203.8 141.8 204.3 142.8 204.3 143.2 203.8 143.8 202.8 143.8 199.8 142.8 193.6 139.8 189.3 137.2 185.7 134.8 181.9 131.8 178.8 128.9 176.2 126.1 173.8 122.9 171.8 119.7 169.8 115.9 168.7 113.2 168.1 110.2 168.2 108.2 168.8 107.5 169.2 107.5 170.8 108.4 170.9 108.2 169.8 103.7 169.0 101.8 167.9 97.8 167.6 96.2 167.7 94.8 168.2 93.8 168.8 93.6 169.2 93.5 170.2 93.8 171.1 89.8 172.6 84.8 174.0 81.2 177.6 74.2 181.4 68.8 184.7 65.2 189.2 61.0 193.8 57.6 195.8 56.3 198.8 55.1 201.8 54.4 204.8 54.4 206.8 54.9 208.4 55.8 210.2 57.4 223.5 73.8 225.0 76.2 225.5 78.2 225.2 79.8 224.6 80.8 219.7 85.2 217.8 87.8 216.4 91.2 216.1 92.8 216.0 94.8 216.8 99.5 217.8 104.1 219.5 109.8 222.9 115.2 225.3 119.8 226.1 124.2 228.1 127.8 228.2 128.2 227.3 140.2 228.4 157.8 230.4 170.2 229.0 184.8 228.1 187.8 228.1 191.2 227.4 197.2 226.0 205.2 223.0 218.2 222.8 218.8 222.2 219.1 220.8 219.2 220.2 219.7 218.8 219.7 218.2 220.2 217.2 220.2 216.8 220.7 215.8 220.7 215.2 221.2 213.8 221.2 213.2 221.7 212.2 221.7 211.8 222.2Z"/><path fill-rule="evenodd" fill="#3b3b3b" d="M211.8 222.2 210.2 222.1 209.9 221.8 211.2 220.8 212.2 220.8 212.8 220.3 213.8 220.3 214.2 219.8 215.8 219.8 216.2 219.3 217.2 219.3 217.8 218.8 218.8 218.8 219.2 218.3 220.8 218.3 221.0 217.8 219.0 209.8 214.9 188.2 214.1 184.8 212.2 169.8 210.9 157.8 207.8 140.6 207.2 138.7 205.8 138.7 203.8 138.0 194.8 132.9 191.8 130.9 187.8 127.9 184.2 124.9 181.6 122.2 177.1 116.8 173.2 110.2 171.7 107.2 169.8 102.3 168.7 99.2 168.2 96.8 168.2 95.8 168.5 94.8 169.2 94.3 170.2 94.5 170.4 94.2 171.2 90.2 172.3 86.2 174.5 80.8 177.8 74.3 181.2 69.2 184.4 65.8 188.8 61.6 193.8 57.8 195.8 56.5 197.4 55.8 199.8 54.9 201.8 54.6 204.8 54.6 206.8 55.1 208.2 55.9 210.2 57.6 211.7 59.2 214.2 62.8 216.5 65.2 223.3 73.8 224.8 76.2 225.3 78.2 225.0 79.8 224.4 80.8 219.4 85.2 217.8 87.5 216.8 89.5 216.2 91.2 215.9 92.8 215.9 94.8 216.8 99.9 217.8 104.5 219.4 109.8 222.5 114.8 225.1 119.8 225.8 123.8 228.0 128.2 227.1 140.2 228.2 157.8 230.2 169.8 230.1 171.8 228.8 184.8 228.0 187.8 227.9 191.2 227.2 197.2 225.9 204.8 224.2 211.7 222.9 218.2 222.7 218.8 222.2 219.0 220.8 219.2 220.2 219.7 218.8 219.7 218.2 220.2 217.2 220.2 216.8 220.7 215.8 220.7 215.2 221.2 213.8 221.2 213.2 221.7 212.2 221.7 211.8 222.2ZM196.8 138.9 195.8 138.9 193.9 138.2 189.3 135.8 183.8 131.8 179.2 127.7 175.8 123.6 172.8 119.0 170.7 114.8 170.2 112.9 170.3 111.8 170.8 111.5 171.8 112.2 181.1 123.2 189.2 131.5 196.0 137.8 196.8 138.8 196.8 138.9Z"/><path fill-rule="evenodd" fill="#3e3e3e" d="M211.8 222.1 210.2 222.1 209.9 221.8 211.2 220.9 212.2 220.8 212.8 220.4 213.8 220.3 214.2 219.9 215.8 219.8 216.2 219.4 217.2 219.3 217.8 218.9 218.8 218.8 219.2 218.4 220.8 218.3 221.0 217.8 219.1 209.8 215.1 188.2 214.2 184.8 212.4 170.2 211.1 157.8 207.9 140.2 207.2 138.2 205.2 138.0 203.8 137.4 195.4 132.8 188.9 128.2 184.8 124.8 182.2 122.3 177.7 116.8 175.8 113.8 173.8 110.3 170.8 103.7 169.2 99.3 168.8 97.2 168.8 96.2 169.2 95.4 169.8 95.2 170.8 95.3 170.9 92.8 171.5 89.8 172.8 85.4 174.2 81.8 177.7 74.8 181.0 69.8 184.6 65.8 188.8 61.9 193.8 58.0 195.7 56.8 197.2 56.0 199.8 55.1 201.8 54.8 204.2 54.8 206.2 55.1 208.2 56.1 210.2 57.8 211.5 59.2 214.2 63.0 223.2 74.0 224.6 76.2 225.1 78.2 224.8 79.8 224.2 80.8 219.7 84.8 217.7 87.2 216.1 90.8 215.7 92.8 215.7 94.2 216.7 100.2 217.7 104.8 219.3 109.8 222.6 115.2 225.0 119.8 225.8 124.0 227.8 128.2 226.9 140.2 228.1 157.8 230.0 170.2 228.7 184.8 227.8 187.8 227.7 191.2 227.1 196.8 225.9 204.2 222.9 218.2 222.7 218.8 222.2 219.0 220.8 219.2 220.2 219.6 218.8 219.7 218.2 220.1 217.2 220.2 216.8 220.6 215.8 220.7 215.2 221.1 213.8 221.2 213.2 221.6 212.2 221.7 211.8 222.1Z"/><path fill-rule="evenodd" fill="#414141" d="M211.8 222.1 210.2 222.1 209.9 221.8 211.2 220.9 212.2 220.8 212.8 220.4 213.8 220.3 214.2 219.9 215.8 219.8 216.2 219.4 217.2 219.3 217.8 218.9 218.8 218.8 219.2 218.4 220.8 218.3 221.0 217.8 219.0 209.2 215.2 188.2 214.4 184.8 212.6 170.2 211.2 157.8 208.0 140.2 207.2 137.6 206.8 137.2 206.2 137.4 205.2 137.4 203.5 136.8 195.4 132.2 189.0 127.8 184.9 124.2 182.8 122.2 178.2 116.7 176.2 113.7 174.2 110.3 172.8 107.3 171.2 103.6 170.2 100.7 169.7 98.2 169.8 97.0 170.2 96.6 170.8 96.8 171.0 93.2 171.5 90.2 172.8 85.9 173.7 83.2 177.6 75.2 180.9 70.2 184.8 65.9 188.8 62.1 193.7 58.2 195.2 57.2 197.2 56.2 199.8 55.3 201.8 54.9 204.2 54.9 206.2 55.2 208.2 56.2 209.9 57.8 211.3 59.2 214.2 63.3 223.2 74.2 224.4 76.2 224.9 78.2 224.6 79.8 224.0 80.8 219.5 84.8 217.5 87.2 216.0 90.8 215.6 92.2 215.6 94.2 217.6 104.8 219.2 109.8 222.5 115.2 224.9 119.8 225.7 124.2 227.6 128.2 226.7 140.2 227.9 157.8 229.8 170.2 228.5 184.8 227.6 187.8 227.6 191.2 227.0 196.8 225.8 203.8 222.8 218.2 222.6 218.8 222.2 219.0 220.8 219.2 220.2 219.6 218.8 219.7 218.2 220.1 217.2 220.2 216.8 220.6 215.8 220.7 215.2 221.1 213.8 221.2 213.2 221.6 212.2 221.7 211.8 222.1Z"/><path fill-rule="evenodd" fill="#444444" d="M211.8 222.1 210.2 222.1 209.9 221.8 211.2 220.9 212.2 220.8 212.8 220.4 213.8 220.3 214.2 219.9 215.8 219.8 216.2 219.4 217.2 219.3 217.8 218.9 218.8 218.8 219.2 218.4 220.8 218.3 221.1 217.8 219.1 209.2 215.3 188.2 214.5 184.8 211.4 157.8 208.2 140.2 207.2 137.1 206.8 136.6 204.8 136.5 202.8 135.8 195.6 131.8 189.2 127.3 183.2 122.0 178.8 116.5 175.2 111.0 173.8 108.1 172.2 104.5 171.2 101.4 171.0 99.8 171.2 99.1 171.8 99.2 171.4 98.8 171.1 96.2 171.2 92.8 171.8 90.1 173.0 85.8 174.8 81.3 177.2 76.3 180.7 70.8 185.1 65.8 189.4 61.8 193.3 58.8 195.5 57.2 197.2 56.4 199.8 55.5 201.8 55.1 204.8 55.1 206.2 55.4 207.9 56.2 209.8 57.8 211.2 59.5 214.2 63.6 223.0 74.2 224.2 76.3 224.8 78.2 224.4 79.8 223.8 80.7 219.2 84.7 217.6 86.8 215.9 90.2 215.5 92.2 215.5 93.8 216.2 98.5 217.6 104.8 219.1 109.8 222.4 115.2 224.7 119.8 225.4 123.8 227.4 128.2 226.6 140.2 227.8 157.8 229.7 169.8 229.5 172.8 228.4 184.8 227.4 188.2 227.4 191.2 226.8 196.8 225.8 203.0 224.8 207.6 224.4 210.2 222.8 218.2 222.6 218.8 222.2 219.0 220.8 219.2 220.2 219.6 218.8 219.7 218.2 220.1 217.2 220.2 216.8 220.6 215.8 220.7 215.2 221.1 213.8 221.2 213.2 221.6 212.2 221.7 211.8 222.1Z"/><path fill-rule="evenodd" fill="#474747" d="M211.8 222.1 210.2 222.1 209.9 221.8 211.2 220.9 212.2 220.9 212.8 220.4 213.8 220.4 214.2 219.9 215.8 219.9 216.2 219.4 217.2 219.4 217.8 218.9 218.8 218.9 219.2 218.4 220.8 218.4 221.1 217.8 219.2 209.2 215.5 188.2 214.7 184.8 211.5 157.8 208.3 140.2 207.3 136.8 206.8 136.3 204.8 135.9 202.2 135.0 193.8 129.8 187.8 125.2 184.8 122.5 182.8 120.5 180.2 117.4 178.2 114.6 176.2 111.3 174.8 108.4 173.6 105.2 173.8 103.6 172.0 99.2 171.3 95.8 171.3 93.8 171.8 90.9 173.8 84.2 175.2 80.8 177.8 75.7 181.3 70.2 184.9 66.2 189.1 62.2 194.2 58.3 195.8 57.2 198.0 56.2 200.2 55.5 202.2 55.3 204.8 55.3 206.6 55.8 208.2 56.7 209.9 58.2 214.2 63.9 222.8 74.2 224.2 76.7 224.6 78.2 224.4 79.2 223.8 80.5 219.2 84.5 217.4 86.8 215.9 89.8 215.3 92.2 215.6 95.2 216.8 101.4 217.6 105.2 219.0 109.8 222.0 114.8 224.6 119.8 225.3 123.8 227.2 128.2 226.4 140.2 227.6 157.8 229.5 169.8 229.0 176.2 228.2 184.8 227.3 188.2 227.2 191.2 226.6 196.8 224.8 206.9 224.3 210.2 222.6 218.8 221.8 219.1 220.8 219.1 220.2 219.6 218.8 219.6 218.2 220.1 217.2 220.1 216.8 220.6 215.8 220.6 215.2 221.1 213.8 221.1 213.2 221.6 212.2 221.6 211.8 222.1Z"/><path fill-rule="evenodd" fill="#4a4a4a" d="M211.8 222.1 210.2 222.0 210.0 221.8 211.2 220.9 212.2 220.9 212.8 220.4 213.8 220.4 214.2 219.9 215.8 219.9 216.2 219.4 217.2 219.4 217.8 218.9 218.8 218.9 219.2 218.4 220.8 218.4 221.2 217.8 219.2 208.8 215.6 188.2 214.8 184.8 211.6 157.8 208.5 140.2 207.5 136.8 207.2 136.2 205.2 135.8 202.8 134.9 197.8 131.9 188.2 124.2 185.3 121.8 183.8 120.1 181.8 117.7 179.8 114.8 179.1 113.2 179.2 113.0 179.8 113.2 178.8 112.2 178.8 111.8 178.0 110.8 177.3 109.2 174.6 104.8 172.2 99.2 171.5 95.8 171.5 93.8 171.8 91.8 173.8 84.7 175.2 81.1 178.2 75.2 181.5 70.2 185.1 66.2 189.2 62.4 193.9 58.8 196.2 57.2 197.8 56.6 200.2 55.7 202.2 55.5 204.8 55.5 206.2 55.8 208.0 56.8 209.8 58.3 214.2 64.2 222.8 74.5 224.1 76.8 224.4 78.2 224.2 79.2 223.7 80.2 219.2 84.2 217.5 86.2 215.9 89.2 215.1 92.2 215.7 96.2 217.2 104.1 218.9 109.8 221.9 114.8 224.5 119.8 225.2 124.1 227.0 128.2 226.3 140.2 227.5 157.8 229.4 170.2 228.4 180.8 228.1 184.8 227.1 188.2 227.0 191.2 226.3 197.2 224.8 206.1 224.4 209.8 223.4 215.2 222.5 218.8 221.8 219.1 220.8 219.1 220.2 219.6 218.8 219.6 218.2 220.1 217.2 220.1 216.8 220.6 215.8 220.6 215.2 221.1 213.8 221.1 213.2 221.6 212.2 221.6 211.8 222.1Z"/><path fill-rule="evenodd" fill="#4c4c4c" d="M211.8 222.1 210.2 222.0 210.0 221.8 211.2 220.9 212.2 220.9 212.8 220.4 213.8 220.4 214.2 219.9 215.8 219.9 216.2 219.4 217.2 219.4 217.8 218.9 218.8 218.9 219.2 218.4 220.8 218.4 221.2 217.8 219.2 208.8 215.7 188.2 214.9 184.8 211.8 157.8 208.6 140.2 207.6 136.8 207.2 136.0 204.8 135.4 202.9 134.8 198.0 131.8 191.2 126.3 187.1 122.2 182.6 116.8 180.1 113.2 175.7 106.2 173.8 102.4 172.8 100.0 172.0 97.8 171.7 95.8 171.7 93.2 172.2 90.4 173.3 86.8 174.2 84.0 175.2 81.6 178.2 75.6 181.8 70.3 185.2 66.4 189.2 62.6 194.3 58.8 195.8 57.8 197.8 56.8 200.2 55.9 202.2 55.7 204.8 55.7 206.2 56.0 207.8 56.8 209.8 58.6 214.0 64.2 222.3 74.2 223.8 76.5 224.2 78.2 224.0 79.2 223.4 80.2 218.9 84.2 217.2 86.2 215.7 89.2 214.9 92.2 217.3 104.8 218.8 109.8 222.1 115.2 224.4 119.8 225.2 124.2 226.9 128.2 226.1 140.2 227.4 157.8 229.2 170.2 228.4 179.8 227.9 184.8 227.0 188.2 226.2 196.5 224.8 205.2 224.3 209.8 223.3 215.2 222.5 218.8 221.8 219.1 220.8 219.1 220.2 219.6 218.8 219.6 218.2 220.1 217.2 220.1 216.8 220.6 215.8 220.6 215.2 221.1 213.8 221.1 213.2 221.6 212.2 221.6 211.8 222.1Z"/><path fill-rule="evenodd" fill="#505050" d="M211.8 222.1 210.2 222.0 210.0 221.8 211.2 220.9 212.2 220.9 212.8 220.4 213.8 220.4 214.2 219.9 215.8 219.9 216.2 219.4 217.2 219.4 217.8 218.9 218.8 218.9 219.2 218.4 220.8 218.4 221.2 217.8 219.4 209.8 215.0 184.8 211.8 157.8 208.7 140.2 207.7 136.8 207.2 136.0 203.1 134.8 198.1 131.8 191.3 126.2 187.7 122.8 181.6 115.2 179.1 111.8 175.8 106.1 173.8 102.2 172.8 99.8 172.1 97.8 171.7 95.8 171.8 93.7 172.2 90.7 174.2 84.2 175.2 81.8 178.2 75.8 181.8 70.4 185.2 66.5 189.2 62.7 194.4 58.8 195.9 57.8 198.0 56.8 200.2 56.0 202.2 55.7 204.8 55.8 206.6 56.2 208.2 57.2 209.8 58.7 213.5 63.8 222.3 74.2 223.8 76.7 224.1 78.2 223.9 79.2 223.3 80.2 218.8 84.2 217.1 86.2 215.6 89.2 214.8 92.2 215.1 93.2 217.3 104.8 218.8 109.8 222.0 115.2 224.3 119.8 225.0 123.8 226.8 128.2 226.1 140.2 227.3 157.8 229.1 169.8 228.4 179.2 227.9 184.8 227.0 188.2 226.2 196.2 224.8 204.9 224.3 209.8 223.3 215.2 222.5 218.8 221.8 219.1 220.8 219.1 220.2 219.6 218.8 219.6 218.2 220.1 217.2 220.1 216.8 220.6 215.8 220.6 215.2 221.1 213.8 221.1 213.2 221.6 212.2 221.6 211.8 222.1Z"/><path fill-rule="evenodd" fill="#585858" d="M211.8 222.0 210.2 222.0 210.0 221.8 210.2 221.5 210.8 221.4 211.2 221.0 212.2 220.9 212.8 220.5 213.8 220.4 214.2 220.0 215.8 219.9 216.2 219.5 217.2 219.4 217.8 219.0 218.8 218.9 219.2 218.5 220.8 218.4 221.4 217.8 219.6 209.8 215.3 184.8 212.1 157.8 209.0 140.2 207.8 135.7 207.2 135.3 204.9 134.8 202.8 133.9 198.5 131.2 191.7 125.8 187.8 121.8 183.2 116.4 180.2 112.2 176.2 105.7 174.2 101.8 173.2 99.3 172.6 97.2 172.4 95.2 172.4 93.2 173.0 90.2 174.2 86.0 175.2 83.4 178.8 76.2 182.2 70.8 185.8 66.9 189.6 63.2 194.8 59.2 196.3 58.2 198.4 57.2 200.2 56.7 202.2 56.4 204.2 56.4 206.1 56.8 207.2 57.4 208.8 58.6 210.2 60.3 212.4 63.2 215.2 66.4 217.8 69.9 221.8 74.5 222.8 76.0 223.3 77.2 223.4 78.8 222.9 79.8 218.4 83.8 216.4 86.2 214.9 89.2 214.3 91.8 214.8 93.2 217.1 104.8 218.6 109.8 221.8 115.2 224.1 119.8 224.8 124.1 226.4 128.2 225.7 140.2 227.0 157.8 228.7 170.2 227.6 184.8 226.7 188.2 226.2 191.8 225.6 197.2 225.2 198.6 224.0 210.2 222.8 217.5 222.4 218.8 221.8 219.0 220.8 219.1 220.2 219.5 218.8 219.6 218.2 220.0 217.2 220.1 216.8 220.5 215.8 220.6 215.2 221.0 213.8 221.1 213.2 221.5 212.2 221.6 211.8 222.0Z"/><path fill-rule="evenodd" fill="#606060" d="M211.8 222.0 210.2 221.9 210.1 221.8 210.8 221.5 211.2 221.0 212.2 221.0 212.8 220.5 213.8 220.5 214.2 220.0 215.8 220.0 216.2 219.5 217.2 219.5 217.8 219.0 218.8 219.0 219.2 218.5 220.8 218.5 221.2 217.9 221.6 217.8 221.2 217.0 219.7 209.8 215.8 185.1 212.5 157.8 209.4 140.2 207.8 134.3 204.0 133.2 199.6 130.8 192.2 124.9 188.8 121.4 183.8 115.3 181.2 111.8 177.2 105.3 175.2 101.4 174.2 99.0 173.7 97.2 173.4 95.2 173.8 91.8 175.8 84.8 176.8 82.2 179.8 76.2 182.4 72.2 183.9 70.2 186.2 67.8 191.8 62.5 197.6 58.8 200.3 57.8 202.8 57.4 204.2 57.4 205.8 57.8 206.8 58.3 208.2 59.6 210.0 61.8 212.8 64.3 215.0 66.8 216.8 69.2 218.2 71.8 221.3 75.2 222.4 77.2 222.3 78.8 221.8 79.6 217.8 83.0 215.8 85.3 214.2 88.5 213.8 90.2 213.5 91.8 213.7 92.2 214.2 92.8 214.8 94.3 216.9 104.8 218.4 109.8 221.5 115.2 223.8 119.8 224.5 124.2 225.9 127.8 225.4 140.2 226.7 157.8 228.3 169.8 227.2 184.8 226.4 188.2 225.0 198.2 223.9 210.2 222.8 217.0 222.3 218.8 221.8 219.0 220.8 219.0 220.2 219.5 218.8 219.5 218.2 220.0 217.2 220.0 216.8 220.5 215.8 220.5 215.2 221.0 213.8 221.0 213.2 221.5 212.2 221.5 211.8 222.0Z"/><path fill-rule="evenodd" fill="#676767" d="M222.2 217.7 221.8 217.7 221.4 216.8 219.8 209.0 216.1 184.8 214.5 170.2 212.9 158.2 209.7 140.2 207.8 132.3 207.2 131.5 204.2 130.4 200.7 128.2 193.9 122.8 190.8 119.8 186.2 114.2 182.7 109.2 178.2 101.6 176.5 97.2 175.2 91.2 175.2 89.8 175.7 87.2 177.2 82.8 180.8 75.7 183.8 71.3 186.8 67.9 189.2 65.6 191.0 63.8 192.2 62.8 193.8 61.8 197.2 60.2 200.8 59.0 203.2 58.9 204.8 59.1 205.8 59.5 206.8 60.0 211.8 63.9 214.2 66.5 216.2 69.3 220.1 75.8 220.6 77.2 220.4 78.2 219.9 79.2 216.5 83.2 214.9 85.8 213.5 89.2 213.0 92.2 214.0 93.2 214.6 94.8 216.7 104.8 218.1 109.8 221.3 115.2 223.5 119.8 224.1 123.8 225.5 128.2 225.0 140.2 226.3 157.8 227.9 170.2 226.8 184.8 226.0 188.2 224.6 199.8 223.8 210.2 222.8 216.4 222.2 217.7ZM211.8 221.9 210.1 221.8 210.8 221.5 211.2 221.1 212.2 221.0 212.8 220.6 213.8 220.5 214.2 220.1 215.8 220.0 216.2 219.6 217.2 219.5 217.8 219.1 218.8 219.0 219.2 218.6 220.8 218.5 221.2 217.9 221.8 217.8 222.2 218.2 222.2 218.8 221.8 218.9 220.8 219.0 220.2 219.4 218.8 219.5 218.2 219.9 217.2 220.0 216.8 220.4 215.8 220.5 215.2 220.9 213.8 221.0 213.2 221.4 212.2 221.5 211.8 221.9Z"/><path fill-rule="evenodd" fill="#6f6f6f" d="M222.2 217.1 221.8 217.1 221.4 216.2 219.8 207.7 216.6 185.2 215.0 170.2 213.1 157.8 210.1 140.2 208.7 134.8 207.4 128.2 207.5 127.8 208.0 127.2 203.0 119.2 200.4 115.8 198.8 113.8 195.2 110.6 185.8 103.4 180.2 98.5 178.2 96.4 176.8 94.3 176.2 93.2 175.8 91.6 175.7 89.8 176.1 87.8 177.8 82.9 181.2 75.8 184.2 71.5 187.1 68.2 192.3 63.2 194.8 61.8 198.4 60.2 201.2 59.4 203.8 59.4 205.8 60.1 209.8 62.9 211.8 64.5 214.2 67.2 216.2 70.1 219.2 75.2 219.7 76.8 219.7 78.2 219.2 79.3 215.5 83.8 213.9 86.8 213.0 89.2 212.5 92.8 213.8 93.7 214.3 94.8 216.5 104.8 217.9 109.8 220.8 114.8 223.2 119.8 223.9 124.2 225.1 128.2 224.7 140.2 226.0 157.8 227.4 170.2 226.4 184.8 225.5 189.2 224.4 199.8 223.6 209.8 222.6 216.2 222.2 217.1ZM211.8 221.9 210.2 221.8 210.8 221.6 211.2 221.1 212.2 221.1 212.8 220.6 213.8 220.6 214.2 220.1 215.8 220.1 216.2 219.6 217.2 219.6 217.8 219.1 218.8 219.1 219.2 218.6 220.8 218.6 221.2 218.0 221.8 217.9 222.1 218.2 222.1 218.8 221.8 218.9 220.8 218.9 220.2 219.4 218.8 219.4 218.2 219.9 217.2 219.9 216.8 220.4 215.8 220.4 215.2 220.9 213.8 220.9 213.2 221.4 212.2 221.4 211.8 221.9Z"/><path fill-rule="evenodd" fill="#777777" d="M222.2 216.7 221.8 216.7 221.6 216.2 221.2 213.8 220.2 209.4 218.8 199.0 215.5 170.2 213.5 157.8 210.5 140.2 209.2 135.2 207.8 128.2 208.5 127.2 208.5 126.8 203.0 118.2 199.5 113.8 196.2 110.6 186.0 102.8 180.3 97.8 178.8 96.0 177.2 93.9 176.7 92.8 176.4 91.2 176.4 89.8 176.8 87.6 178.2 83.3 181.8 76.2 184.8 71.9 187.2 69.0 189.8 66.7 191.2 64.8 192.8 63.5 195.8 61.9 199.2 60.6 201.2 60.1 203.2 60.0 205.2 60.6 209.2 63.1 211.3 64.8 213.6 67.2 215.8 70.2 218.6 75.2 219.2 76.8 219.2 77.8 218.7 79.2 215.1 83.2 213.4 86.2 212.6 88.8 212.0 93.2 212.2 93.7 213.2 93.9 213.8 94.4 214.2 95.2 215.2 99.5 216.3 105.2 217.6 109.8 220.7 115.2 222.9 119.8 223.5 124.2 224.6 128.2 224.3 140.2 225.6 157.8 226.9 170.2 225.9 184.8 225.0 189.8 224.0 200.2 223.3 210.2 222.2 216.7ZM211.8 221.8 210.2 221.8 210.8 221.6 211.2 221.2 212.2 221.1 212.8 220.7 213.8 220.6 214.2 220.2 215.8 220.1 216.2 219.7 217.2 219.6 217.8 219.2 218.8 219.1 219.2 218.7 220.8 218.6 221.2 218.1 221.8 218.0 222.0 218.2 222.0 218.8 221.8 218.8 220.8 218.9 220.2 219.3 218.8 219.4 218.2 219.8 217.2 219.9 216.8 220.3 215.8 220.4 215.2 220.8 213.8 220.9 213.2 221.3 212.2 221.4 211.8 221.8Z"/><path fill-rule="evenodd" fill="#7e7e7e" d="M222.2 216.2 221.8 216.2 221.6 215.8 219.3 199.8 216.1 169.8 210.9 140.2 209.7 135.2 208.3 128.2 208.5 127.8 209.4 126.8 209.2 126.1 203.9 117.8 200.4 113.2 194.2 107.7 186.4 101.8 181.2 97.3 179.8 95.6 178.2 93.6 177.8 92.6 177.4 91.2 177.4 89.8 177.8 87.7 179.2 83.5 182.8 76.5 185.8 72.2 187.8 69.9 189.8 68.0 191.6 65.2 193.2 63.8 195.2 62.8 196.8 62.1 198.8 61.5 201.8 61.0 203.8 61.1 206.2 62.1 208.8 63.4 211.0 65.2 213.3 67.8 215.8 71.1 217.2 73.8 218.5 76.8 218.5 77.8 218.1 78.8 214.3 82.8 213.2 84.8 212.1 88.8 211.4 93.8 211.5 94.2 213.2 94.6 213.8 95.2 215.1 100.2 216.0 105.2 217.3 109.8 220.2 114.9 222.6 119.8 223.1 123.8 224.1 128.2 223.9 140.2 226.2 170.2 225.1 184.8 224.5 188.2 223.6 200.2 223.1 210.2 222.2 216.2ZM211.8 221.8 210.4 221.8 210.8 221.7 211.2 221.2 212.2 221.2 212.8 220.7 213.8 220.7 214.2 220.2 215.8 220.2 216.2 219.7 217.2 219.7 217.8 219.2 218.8 219.2 219.2 218.7 220.8 218.7 221.2 218.1 221.8 218.1 221.9 218.2 221.8 218.8 220.8 218.8 220.2 219.3 218.8 219.3 218.2 219.8 217.2 219.8 216.8 220.3 215.8 220.3 215.2 220.8 213.8 220.8 213.2 221.3 212.2 221.3 211.8 221.8Z"/><path fill-rule="evenodd" fill="#868686" d="M222.2 215.2 221.8 215.2 221.0 208.2 220.8 200.2 220.8 185.2 219.8 184.0 218.8 180.3 217.3 170.2 215.2 162.2 211.3 140.2 210.1 134.8 208.9 128.2 209.1 127.8 209.8 127.0 209.8 126.2 209.4 125.2 209.2 123.8 208.9 123.2 208.8 120.7 208.2 119.8 203.2 114.6 190.2 102.8 187.2 99.6 184.8 96.7 183.2 94.5 182.2 92.2 181.8 90.2 181.7 88.2 182.2 85.2 182.8 83.0 183.8 80.3 184.7 78.2 186.2 75.9 188.2 73.4 190.0 71.8 190.2 71.2 190.4 68.8 191.2 66.8 192.5 65.2 194.6 63.8 196.8 62.8 199.8 62.0 202.2 61.9 204.8 62.3 207.2 63.3 209.8 65.0 212.8 68.0 215.8 72.2 216.9 74.2 217.5 76.8 217.4 77.8 217.1 78.2 214.2 81.8 212.8 84.2 211.6 87.8 211.0 91.8 211.2 95.2 212.8 95.3 213.2 95.9 214.2 98.2 214.8 99.8 215.6 104.8 217.0 109.8 219.8 114.8 222.2 119.8 222.7 123.8 223.5 128.2 223.4 140.2 225.0 161.8 225.3 168.2 224.2 178.5 223.2 183.7 223.1 205.8 222.9 209.8 222.2 215.2ZM208.8 107.2 208.8 104.1 208.3 104.8 208.8 107.4 208.8 107.2ZM211.8 221.8 210.7 221.8 211.2 221.2 212.2 221.2 212.8 220.7 213.8 220.7 214.2 220.2 215.8 220.2 216.2 219.7 217.2 219.7 217.8 219.2 218.8 219.2 219.2 218.7 220.8 218.7 221.2 218.2 221.8 218.2 221.8 218.8 220.8 218.8 220.2 219.3 218.8 219.3 218.2 219.8 217.2 219.8 216.8 220.3 215.8 220.3 215.2 220.8 213.8 220.8 213.2 221.3 212.2 221.3 211.8 221.8Z"/><path fill-rule="evenodd" fill="#8e8e8e" d="M222.2 213.4 221.8 213.4 221.3 209.8 221.1 205.2 220.8 182.2 220.3 168.2 218.8 167.6 217.8 166.5 216.8 164.3 215.2 158.9 213.5 150.2 211.9 140.2 210.8 135.0 209.8 129.3 209.6 128.2 210.2 127.2 209.0 122.2 208.8 119.3 208.3 118.2 208.2 116.4 203.2 111.5 192.4 101.8 189.8 99.2 185.8 94.3 184.8 92.6 184.0 90.2 183.9 88.8 184.1 86.8 185.2 82.4 186.2 80.1 187.8 77.5 189.2 75.5 191.2 73.4 191.1 69.8 191.3 68.8 191.9 67.2 193.2 65.7 195.2 64.3 197.8 63.3 200.1 62.8 202.8 62.7 204.8 63.1 206.8 63.9 208.9 65.2 211.2 67.5 214.2 71.2 216.0 73.8 216.7 75.8 216.7 76.8 216.2 78.0 213.0 82.2 211.5 85.2 210.7 88.2 210.6 91.8 211.2 97.7 211.8 98.0 212.8 98.0 213.2 98.2 214.2 99.8 215.0 104.8 216.4 109.8 219.3 114.8 221.8 119.8 222.1 121.8 222.2 124.2 222.8 127.8 222.9 140.2 223.7 150.2 224.2 161.8 223.9 165.8 223.1 167.8 223.0 200.2 222.7 209.8 222.2 213.4ZM208.3 112.2 208.3 110.2 208.8 109.2 209.1 105.8 208.8 103.8 208.8 103.2 208.2 102.4 206.8 100.9 206.4 101.2 205.9 102.2 206.1 105.2 207.0 109.2 208.2 112.6 208.3 112.2ZM219.8 219.3 219.0 219.2 219.5 218.8 220.5 218.8 220.0 219.2 219.8 219.3ZM221.2 218.8 221.0 218.8 221.2 218.5 221.5 218.8 221.2 218.8ZM218.2 219.5 218.0 219.2 218.5 219.2 218.2 219.5ZM216.8 220.0 216.5 219.8 217.0 219.8 216.8 220.0ZM217.8 219.8 217.5 219.8 217.8 219.5 218.0 219.8 217.8 219.8ZM214.8 220.8 214.0 220.8 214.5 220.2 215.5 220.2 215.0 220.8 214.8 220.8ZM216.2 220.3 216.0 220.2 216.2 220.0 216.5 220.2 216.2 220.3ZM213.2 221.0 213.0 220.8 213.5 220.8 213.2 221.0ZM211.8 221.5 211.5 221.2 212.0 221.2 211.8 221.5ZM212.8 221.3 212.5 221.2 212.8 221.0 213.0 221.2 212.8 221.3ZM211.2 221.8 211.0 221.8 211.2 221.5 211.5 221.8 211.2 221.8Z"/><path fill-rule="evenodd" fill="#959595" d="M222.2 211.6 221.8 211.6 221.2 202.8 220.9 178.8 220.4 168.2 219.9 166.8 219.8 164.9 219.4 164.2 219.2 162.2 218.2 161.7 217.2 160.8 216.2 158.7 215.8 156.9 214.2 150.2 210.4 127.2 209.2 122.2 208.4 116.2 208.5 111.2 209.3 105.8 208.8 102.4 208.1 100.8 206.8 98.8 206.2 98.5 205.4 99.2 205.2 100.3 204.8 100.4 204.2 99.7 203.6 97.2 202.9 95.8 201.0 92.2 197.8 86.9 195.2 81.8 193.2 76.6 192.3 72.8 192.2 70.8 192.4 69.2 192.8 68.2 193.8 66.8 195.0 65.8 196.8 64.8 198.4 64.2 200.2 63.9 202.2 63.8 204.6 64.2 206.8 65.2 208.2 66.2 210.5 68.2 214.2 72.6 215.4 74.2 216.0 75.8 215.8 77.2 215.3 78.2 212.1 81.8 210.9 83.8 210.2 85.8 210.1 88.2 211.1 97.8 211.6 99.8 211.7 101.8 212.1 102.8 212.2 104.7 212.6 105.2 212.8 107.3 216.7 111.8 219.1 115.2 221.1 119.2 222.0 122.2 222.0 124.2 221.7 125.2 221.9 128.2 222.1 139.8 223.0 150.2 223.2 157.2 222.9 159.8 222.8 160.6 222.2 161.5 222.2 162.8 222.2 164.2 222.6 165.2 222.6 167.8 223.0 169.8 223.0 173.8 222.9 200.2 222.2 211.6Z"/><path fill-rule="evenodd" fill="#9d9d9d" d="M222.2 209.6 221.8 209.6 221.2 200.2 220.8 170.2 219.3 161.8 219.0 160.8 218.8 158.8 218.4 157.8 218.2 155.5 217.9 155.2 217.8 153.9 216.8 152.9 215.5 149.8 212.8 132.2 211.5 130.2 210.6 127.8 209.2 121.8 208.6 116.8 208.6 112.8 209.4 105.8 208.2 98.8 206.9 96.2 206.2 93.2 205.8 92.6 205.2 92.7 204.8 95.8 204.2 96.0 202.8 94.0 201.3 90.8 200.2 87.3 197.8 82.6 195.8 78.2 195.0 75.8 194.4 73.2 194.3 70.8 194.7 69.2 195.2 68.5 195.9 67.8 197.2 66.9 198.8 66.3 200.2 66.0 201.8 65.9 203.2 66.0 204.8 66.5 206.3 67.2 207.8 68.3 213.2 73.2 214.3 74.2 215.0 75.8 215.0 76.8 214.2 78.1 210.6 81.2 209.8 82.2 209.2 83.8 209.0 85.8 209.4 86.2 209.8 87.6 211.1 99.2 212.7 107.8 217.5 113.2 218.9 115.2 220.9 119.2 221.8 122.2 221.8 124.2 221.5 125.8 220.3 128.8 220.6 139.8 221.7 149.8 221.4 151.8 221.0 153.8 221.2 154.2 221.2 157.2 221.5 158.2 221.7 160.8 222.9 170.2 222.8 199.8 222.2 209.6Z"/><path fill-rule="evenodd" fill="#a4a4a4" d="M207.8 92.1 207.2 91.8 206.8 90.8 206.0 83.2 205.8 82.6 204.8 81.7 204.2 81.8 203.7 82.8 203.6 83.8 203.8 85.2 203.5 88.8 203.6 90.2 203.2 91.4 202.8 91.1 202.2 90.3 201.5 86.8 201.0 85.2 200.4 81.2 198.9 76.8 198.6 75.2 198.8 73.8 199.2 72.5 200.2 71.4 201.2 70.9 202.8 70.8 204.2 71.1 209.8 72.9 212.3 74.2 213.2 75.1 213.5 75.8 213.5 76.8 212.9 77.8 211.8 78.6 209.8 79.6 209.2 80.1 209.0 80.8 208.4 83.8 208.1 87.2 208.2 89.2 208.0 91.2 207.8 92.1ZM222.2 205.3 221.8 205.3 221.4 199.8 220.9 169.8 217.4 149.2 214.5 135.8 214.4 134.2 213.8 132.4 212.0 130.8 210.8 127.5 209.8 123.7 208.8 117.2 208.8 111.8 209.6 105.8 208.6 99.8 208.4 97.2 208.3 88.8 208.3 88.2 208.8 87.8 209.2 88.6 209.8 90.6 211.0 99.8 212.5 107.8 216.9 112.8 218.8 115.3 220.3 118.2 221.3 120.8 221.7 122.2 221.7 124.2 220.9 126.8 218.9 130.2 217.4 131.8 217.3 132.2 218.1 140.2 220.0 149.2 222.7 170.2 222.8 192.7 222.2 205.3Z"/><path fill-rule="evenodd" fill="#acacac" d="M207.2 82.2 206.4 81.2 205.9 79.8 206.2 78.4 206.6 78.2 204.6 77.2 204.2 76.8 204.1 76.2 204.2 75.8 204.8 75.2 206.8 74.8 208.2 74.8 209.8 75.2 210.6 75.8 210.8 76.2 210.6 76.8 210.0 77.2 207.6 78.2 208.2 79.0 208.3 79.8 207.8 81.6 207.2 82.2ZM202.2 81.5 201.8 81.2 201.2 79.9 201.2 79.7 201.8 79.3 202.2 79.5 202.5 79.8 202.6 80.2 202.2 81.5ZM222.2 201.1 221.8 201.1 221.7 199.8 221.0 169.8 218.0 150.8 214.5 133.8 214.0 132.2 213.2 131.8 212.2 130.7 210.8 127.1 209.6 122.2 209.0 117.2 208.9 111.8 209.7 105.8 209.2 103.2 208.8 98.6 208.8 91.8 209.2 92.8 210.2 96.3 212.4 107.8 216.8 112.9 218.8 115.6 220.2 118.6 221.2 121.1 221.5 122.2 221.5 124.2 220.8 126.6 219.4 129.2 218.2 130.7 217.1 131.8 217.1 132.2 217.8 140.2 219.8 149.8 222.5 169.8 222.7 185.2 222.2 201.1Z"/><path fill-rule="evenodd" fill="#b4b4b4" d="M216.8 140.2 216.2 139.5 215.8 138.0 214.3 132.2 212.8 131.1 212.2 130.2 211.2 128.0 210.2 124.6 209.8 122.1 209.1 116.8 209.1 112.8 209.7 107.2 210.0 105.8 209.2 102.0 209.1 98.8 209.2 96.3 210.2 98.7 212.1 107.8 216.8 113.1 218.3 115.2 219.8 117.9 221.3 121.8 221.3 124.2 220.8 126.2 218.8 129.8 216.9 131.8 217.2 138.8 216.8 140.2ZM222.2 191.6 221.8 191.6 221.2 169.8 220.2 163.1 220.0 158.8 220.2 158.2 221.2 162.9 222.3 169.8 222.4 184.8 222.2 191.6Z"/><path fill-rule="evenodd" fill="#bbbbbb" d="M210.2 104.2 209.7 103.2 209.8 100.2 210.5 102.2 210.7 103.2 210.7 103.8 210.2 104.2ZM216.2 135.0 215.8 135.0 215.2 134.3 214.6 132.2 213.1 131.2 212.4 130.2 211.2 127.5 210.2 123.7 209.3 116.8 209.2 112.2 209.9 107.2 210.2 106.5 210.7 106.2 210.8 106.0 211.2 106.3 211.9 107.8 216.2 112.8 218.2 115.5 219.8 118.3 221.2 122.2 221.2 124.2 220.2 126.9 218.6 129.8 216.6 131.8 216.5 133.8 216.2 135.0Z"/><path fill-rule="evenodd" fill="#c3c3c3" d="M215.8 132.4 213.8 131.4 212.8 130.4 211.2 126.8 210.2 122.5 209.5 116.8 209.5 112.2 210.1 107.8 210.2 107.2 210.8 107.1 213.8 110.2 217.8 115.1 219.2 117.8 220.8 121.8 220.9 124.2 220.2 126.4 218.3 129.8 217.2 130.9 216.1 131.8 215.8 132.4Z"/><path fill-rule="evenodd" fill="#cbcbcb" d="M216.2 131.3 214.8 131.5 214.0 131.2 213.2 130.6 211.8 127.4 210.8 123.7 209.8 116.9 209.7 114.2 209.8 111.2 210.2 108.8 210.8 107.7 211.2 108.0 213.2 110.0 217.8 115.6 219.2 118.4 220.7 122.2 220.7 124.2 219.8 126.8 218.2 129.4 217.2 130.5 216.2 131.3Z"/><path fill-rule="evenodd" fill="#d2d2d2" d="M216.2 130.8 215.2 131.1 214.8 131.1 214.0 130.8 213.5 130.2 212.2 127.7 211.2 124.3 210.2 117.2 210.1 114.8 210.2 110.9 210.8 109.1 211.2 108.8 213.2 110.6 217.2 115.5 218.8 118.2 220.2 122.0 220.3 124.2 219.8 125.9 218.2 128.8 217.2 130.0 216.2 130.8Z"/><path fill-rule="evenodd" fill="#dadada" d="M215.8 130.3 214.8 130.3 213.8 129.5 212.8 127.3 211.8 123.7 210.8 117.0 210.7 114.8 210.8 111.8 211.2 110.6 211.8 110.4 212.2 110.6 213.2 111.6 216.8 115.9 218.2 118.6 219.6 122.2 219.8 123.2 219.6 124.2 218.8 126.6 217.2 129.0 215.8 130.3Z"/><path fill-rule="evenodd" fill="#e2e2e2" d="M215.8 128.4 215.2 128.5 214.8 128.2 214.2 127.5 213.4 125.2 212.8 122.6 211.9 115.8 212.2 113.9 212.8 113.6 213.2 113.8 214.2 114.7 216.2 117.2 217.2 119.3 218.4 122.2 218.5 123.8 218.0 125.2 216.8 127.5 215.8 128.4Z"/></g>
</g></g>
<rect x="157.5" y="52.5" width="102.3" height="169.7" fill="none" stroke="#3a3a4a" stroke-width="0.7"/>
<text x="341.3" y="11.9" font-size="14" font-weight="bold" text-anchor="middle" fill="#111" stroke="#111" stroke-width="0.3">Densities</text>
<text x="0.5" y="45.2" font-size="15" font-weight="bold" fill="#111">a</text>
<text x="143.2" y="45.2" font-size="15" font-weight="bold" fill="#111">b</text>
<text x="276.5" y="45.2" font-size="15" font-weight="bold" fill="#111">c</text>
<text x="409.6" y="45.2" font-size="15" font-weight="bold" fill="#111">d</text>
<text x="542.6" y="45.2" font-size="15" font-weight="bold" fill="#111">e</text>
<text x="208.3" y="43.7" font-size="8.4" font-weight="bold" text-anchor="middle" fill="#111" stroke="#111" stroke-width="0.25">Position</text>
<text x="343.1" y="43.7" font-size="8.4" font-weight="bold" text-anchor="middle" fill="#111" stroke="#111" stroke-width="0.25">Velocity</text>
<text x="475.9" y="43.7" font-size="8.4" font-weight="bold" text-anchor="middle" fill="#111" stroke="#111" stroke-width="0.25">Acceleration</text>
<text x="611.1" y="43.7" font-size="8.4" font-weight="bold" text-anchor="middle" fill="#111" stroke="#111" stroke-width="0.25">Jerk</text>
<text transform="translate(6.6,132.8) rotate(-90)" font-size="6.05" font-style="italic" font-weight="bold" text-anchor="middle" fill="#111">Height (mm)</text>
<text transform="translate(152.3,132.8) rotate(-90)" font-size="6.05" font-style="italic" font-weight="bold" text-anchor="middle" fill="#111">Height (mm)</text>
<text transform="translate(287.3,132.8) rotate(-90)" font-size="6.05" font-style="italic" font-weight="bold" text-anchor="middle" fill="#111">Height (mm)</text>
<text transform="translate(422.3,132.8) rotate(-90)" font-size="6.05" font-style="italic" font-weight="bold" text-anchor="middle" fill="#111">Height (mm)</text>
<text transform="translate(557.3,132.8) rotate(-90)" font-size="6.05" font-style="italic" font-weight="bold" text-anchor="middle" fill="#111">Height (mm)</text>
<text x="74.3" y="238" font-size="6.5" font-style="italic" text-anchor="middle" fill="#000" stroke="#000" stroke-width="0.12">Width (mm)</text>
<text x="211.6" y="238" font-size="6.5" font-style="italic" text-anchor="middle" fill="#000" stroke="#000" stroke-width="0.12">Width (mm)</text>
<text x="344.0" y="238" font-size="6.5" font-style="italic" text-anchor="middle" fill="#000" stroke="#000" stroke-width="0.12">Speed (mm/ΔT)</text>
<text x="479.0" y="238" font-size="6.5" font-style="italic" text-anchor="middle" fill="#000" stroke="#000" stroke-width="0.12">Acceleration (mm/ΔT²)</text>
<text x="613.6" y="238" font-size="6.5" font-style="italic" text-anchor="middle" fill="#000" stroke="#000" stroke-width="0.12">Jerk (mm/ΔT³)</text>
<text x="296.2" y="228.6" font-size="5" text-anchor="middle" fill="#111" stroke="#111" stroke-width="0.08">-80</text>
<text x="320.2" y="228.6" font-size="5" text-anchor="middle" fill="#111" stroke="#111" stroke-width="0.08">-40</text>
<text x="344.2" y="228.6" font-size="5" text-anchor="middle" fill="#111" stroke="#111" stroke-width="0.08">0</text>
<text x="368.2" y="228.6" font-size="5" text-anchor="middle" fill="#111" stroke="#111" stroke-width="0.08">40</text>
<text x="392.2" y="228.6" font-size="5" text-anchor="middle" fill="#111" stroke="#111" stroke-width="0.08">80</text>
<text x="430.6" y="228.6" font-size="5" text-anchor="middle" fill="#111" stroke="#111" stroke-width="0.08">-80</text>
<text x="454.6" y="228.6" font-size="5" text-anchor="middle" fill="#111" stroke="#111" stroke-width="0.08">-40</text>
<text x="478.6" y="228.6" font-size="5" text-anchor="middle" fill="#111" stroke="#111" stroke-width="0.08">0</text>
<text x="502.6" y="228.6" font-size="5" text-anchor="middle" fill="#111" stroke="#111" stroke-width="0.08">40</text>
<text x="526.6" y="228.6" font-size="5" text-anchor="middle" fill="#111" stroke="#111" stroke-width="0.08">80</text>
<text x="565.2" y="228.6" font-size="5" text-anchor="middle" fill="#111" stroke="#111" stroke-width="0.08">-80</text>
<text x="589.2" y="228.6" font-size="5" text-anchor="middle" fill="#111" stroke="#111" stroke-width="0.08">-40</text>
<text x="613.2" y="228.6" font-size="5" text-anchor="middle" fill="#111" stroke="#111" stroke-width="0.08">0</text>
<text x="637.2" y="228.6" font-size="5" text-anchor="middle" fill="#111" stroke="#111" stroke-width="0.08">40</text>
<text x="661.2" y="228.6" font-size="5" text-anchor="middle" fill="#111" stroke="#111" stroke-width="0.08">80</text>
<rect x="23.6" y="52.4" width="102.6" height="169.79999999999998" fill="none" stroke="#8a8a8a" stroke-width="0.6"/>
<text x="21.6" y="54.0" font-size="4.6" text-anchor="end" fill="#111" stroke="#111" stroke-width="0.08">2000</text>
<line x1="23.6" y1="52.40" x2="24.8" y2="52.40" stroke="#999" stroke-width="0.5"/>
<line x1="126.2" y1="52.40" x2="125.0" y2="52.40" stroke="#999" stroke-width="0.5"/>
<text x="21.6" y="71.0" font-size="4.6" text-anchor="end" fill="#111" stroke="#111" stroke-width="0.08">1800</text>
<line x1="23.6" y1="69.38" x2="24.8" y2="69.38" stroke="#999" stroke-width="0.5"/>
<line x1="126.2" y1="69.38" x2="125.0" y2="69.38" stroke="#999" stroke-width="0.5"/>
<text x="21.6" y="88.0" font-size="4.6" text-anchor="end" fill="#111" stroke="#111" stroke-width="0.08">1600</text>
<line x1="23.6" y1="86.36" x2="24.8" y2="86.36" stroke="#999" stroke-width="0.5"/>
<line x1="126.2" y1="86.36" x2="125.0" y2="86.36" stroke="#999" stroke-width="0.5"/>
<text x="21.6" y="104.9" font-size="4.6" text-anchor="end" fill="#111" stroke="#111" stroke-width="0.08">1400</text>
<line x1="23.6" y1="103.34" x2="24.8" y2="103.34" stroke="#999" stroke-width="0.5"/>
<line x1="126.2" y1="103.34" x2="125.0" y2="103.34" stroke="#999" stroke-width="0.5"/>
<text x="21.6" y="121.9" font-size="4.6" text-anchor="end" fill="#111" stroke="#111" stroke-width="0.08">1200</text>
<line x1="23.6" y1="120.32" x2="24.8" y2="120.32" stroke="#999" stroke-width="0.5"/>
<line x1="126.2" y1="120.32" x2="125.0" y2="120.32" stroke="#999" stroke-width="0.5"/>
<text x="21.6" y="138.9" font-size="4.6" text-anchor="end" fill="#111" stroke="#111" stroke-width="0.08">1000</text>
<line x1="23.6" y1="137.30" x2="24.8" y2="137.30" stroke="#999" stroke-width="0.5"/>
<line x1="126.2" y1="137.30" x2="125.0" y2="137.30" stroke="#999" stroke-width="0.5"/>
<text x="21.6" y="155.9" font-size="4.6" text-anchor="end" fill="#111" stroke="#111" stroke-width="0.08">800</text>
<line x1="23.6" y1="154.28" x2="24.8" y2="154.28" stroke="#999" stroke-width="0.5"/>
<line x1="126.2" y1="154.28" x2="125.0" y2="154.28" stroke="#999" stroke-width="0.5"/>
<text x="21.6" y="172.9" font-size="4.6" text-anchor="end" fill="#111" stroke="#111" stroke-width="0.08">600</text>
<line x1="23.6" y1="171.26" x2="24.8" y2="171.26" stroke="#999" stroke-width="0.5"/>
<line x1="126.2" y1="171.26" x2="125.0" y2="171.26" stroke="#999" stroke-width="0.5"/>
<text x="21.6" y="189.8" font-size="4.6" text-anchor="end" fill="#111" stroke="#111" stroke-width="0.08">400</text>
<line x1="23.6" y1="188.24" x2="24.8" y2="188.24" stroke="#999" stroke-width="0.5"/>
<line x1="126.2" y1="188.24" x2="125.0" y2="188.24" stroke="#999" stroke-width="0.5"/>
<text x="21.6" y="206.8" font-size="4.6" text-anchor="end" fill="#111" stroke="#111" stroke-width="0.08">200</text>
<line x1="23.6" y1="205.22" x2="24.8" y2="205.22" stroke="#999" stroke-width="0.5"/>
<line x1="126.2" y1="205.22" x2="125.0" y2="205.22" stroke="#999" stroke-width="0.5"/>
<text x="21.6" y="223.8" font-size="4.6" text-anchor="end" fill="#111" stroke="#111" stroke-width="0.08">0</text>
<line x1="23.6" y1="222.20" x2="24.8" y2="222.20" stroke="#999" stroke-width="0.5"/>
<line x1="126.2" y1="222.20" x2="125.0" y2="222.20" stroke="#999" stroke-width="0.5"/>
<text x="23.6" y="228.1" font-size="4.6" text-anchor="middle" fill="#111" stroke="#111" stroke-width="0.08">-250</text>
<line x1="23.60" y1="222.2" x2="23.60" y2="221.0" stroke="#999" stroke-width="0.5"/>
<line x1="23.60" y1="52.4" x2="23.60" y2="53.6" stroke="#999" stroke-width="0.5"/>
<text x="49.2" y="228.1" font-size="4.6" text-anchor="middle" fill="#111" stroke="#111" stroke-width="0.08">-125</text>
<line x1="49.25" y1="222.2" x2="49.25" y2="221.0" stroke="#999" stroke-width="0.5"/>
<line x1="49.25" y1="52.4" x2="49.25" y2="53.6" stroke="#999" stroke-width="0.5"/>
<text x="74.9" y="228.1" font-size="4.6" text-anchor="middle" fill="#111" stroke="#111" stroke-width="0.08">0</text>
<line x1="74.90" y1="222.2" x2="74.90" y2="221.0" stroke="#999" stroke-width="0.5"/>
<line x1="74.90" y1="52.4" x2="74.90" y2="53.6" stroke="#999" stroke-width="0.5"/>
<text x="100.5" y="228.1" font-size="4.6" text-anchor="middle" fill="#111" stroke="#111" stroke-width="0.08">125</text>
<line x1="100.55" y1="222.2" x2="100.55" y2="221.0" stroke="#999" stroke-width="0.5"/>
<line x1="100.55" y1="52.4" x2="100.55" y2="53.6" stroke="#999" stroke-width="0.5"/>
<text x="126.2" y="228.1" font-size="4.6" text-anchor="middle" fill="#111" stroke="#111" stroke-width="0.08">250</text>
<line x1="126.20" y1="222.2" x2="126.20" y2="221.0" stroke="#999" stroke-width="0.5"/>
<line x1="126.20" y1="52.4" x2="126.20" y2="53.6" stroke="#999" stroke-width="0.5"/>
<polygon points="28,58 38.5,57.3 74.6,74.8 72.5,95 70.7,105.5 70.3,130 84,165 96.7,200 102.5,218 102.5,218 94.6,200 79.5,165 66,128 66,124 70.3,105.5 70,95 68,75.2 28,59" fill="#fa2538" stroke="#8a50b0" stroke-width="0.25" stroke-opacity="0.6"/>
<polyline points="102.5,218 75,221.6" fill="none" stroke="#4a90e0" stroke-width="0.7"/>
<line x1="69.1" y1="75.5" x2="73.9" y2="75.5" stroke="#702030" stroke-width="0.8"/>
<circle cx="69.1" cy="75.5" r="0.95" fill="#111"/><circle cx="73.9" cy="75.5" r="0.95" fill="#111"/>
<polyline points="72.3,88 71.2,97 70.4,106 69.8,112" fill="none" stroke="#8cc0f5" stroke-width="0.6"/>
<rect x="80.3" y="77.6" width="38" height="13.6" fill="#fff" stroke="#333" stroke-width="0.6"/>
<text x="99.5" y="87.4" font-size="6.6" text-anchor="middle" fill="#111">ΔT = 0.2<tspan font-style="italic">s</tspan></text>
<rect x="185.6" y="189.2" width="5.8" height="5.8" fill="#fff" stroke="#9cc3ef" stroke-width="0.5"/>
<line x1="162.2" y1="241" x2="187.5" y2="196.3" stroke="#80b4f0" stroke-width="1.1"/>
<polyline points="184.5,198 187.6,196.1 187.5,199.7" fill="none" stroke="#80b4f0" stroke-width="1.1"/>
<rect x="143.7" y="241" width="35.9" height="34" fill="#fff" stroke="#5096e6" stroke-width="1.3"/>
<text x="161.7" y="251.8" font-size="6.9" text-anchor="middle" fill="#111" stroke="#111" stroke-width="0.16">Pixel</text>
<text x="161.7" y="261.1" font-size="6.9" text-anchor="middle" fill="#111" stroke="#111" stroke-width="0.16">16 x 16</text>
<text x="161.7" y="270.2" font-size="6.9" text-anchor="middle" fill="#111" stroke="#111" stroke-width="0.16">mm</text>
</svg></body></html>
